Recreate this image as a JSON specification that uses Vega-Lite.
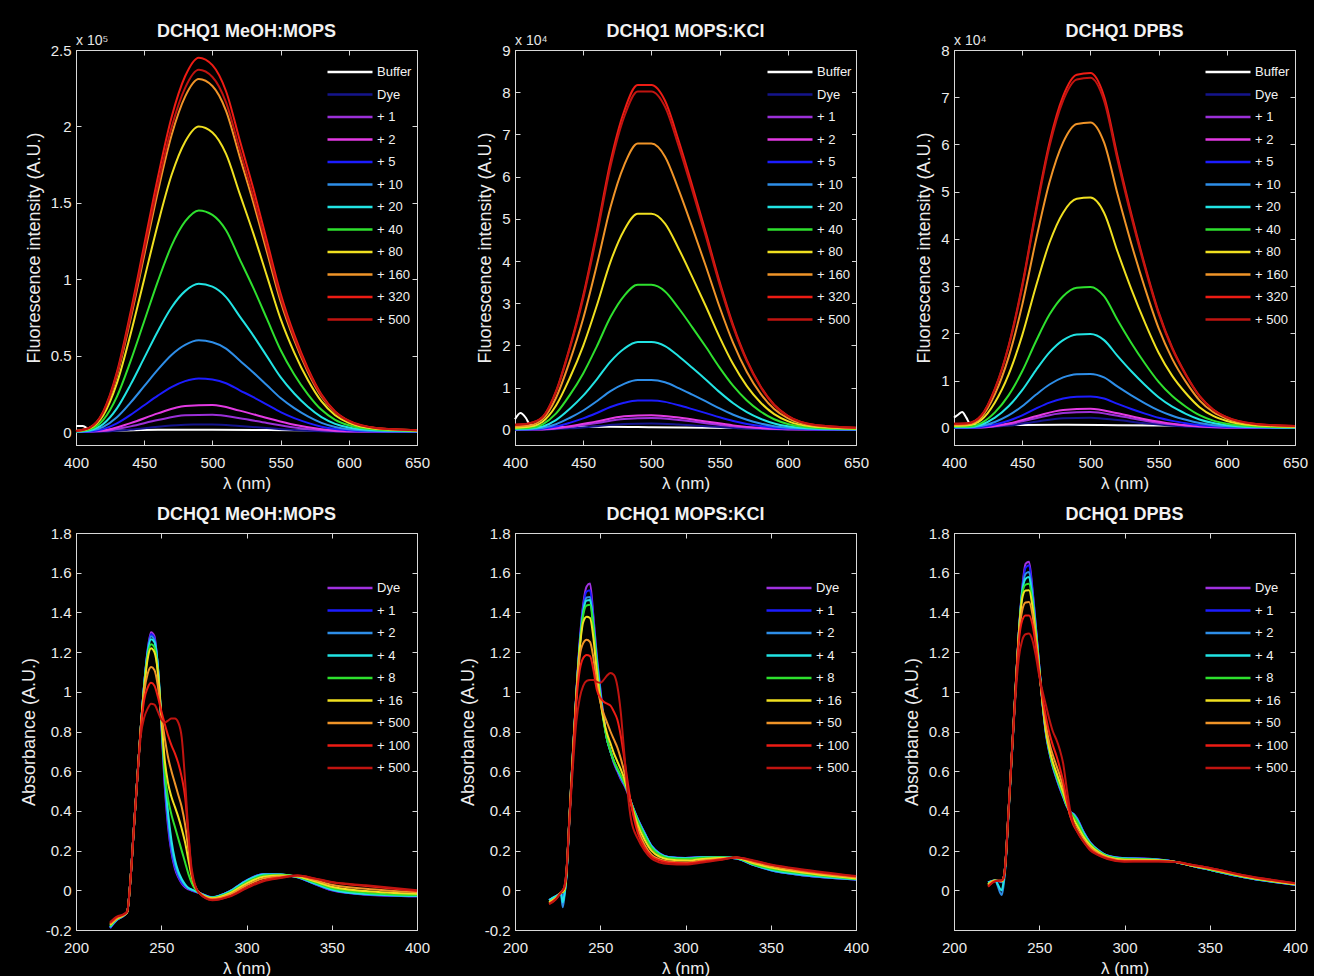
{
"$schema":"https://vega.github.io/schema/vega-lite/v6.json",
"background":"black",
"padding":{"left":19,"top":22,"right":5,"bottom":5},
"config":{
"font":"Liberation Sans",
"view":{"stroke":"#d9d9d9","strokeWidth":1},
"axis":{"domainColor":"#d9d9d9","tickColor":"#d9d9d9","labelColor":"#ececec","titleColor":"#ececec","grid":false,"tickSize":-5,"labelFontSize":15,"titleFontSize":17,"titleFontWeight":"normal","labelPadding":10,"titlePadding":7,"labelFlush":false,"labelOverlap":false},
"axisX":{"labelPadding":15,"titlePadding":5},
"axisY":{"titleFontSize":18},
"title":{"color":"#f2f2f2","fontSize":18,"fontWeight":"bold","offset":2},
"legend":{"orient":"none","title":null,"symbolType":"stroke","symbolSize":2025,"symbolStrokeWidth":2.5,"labelFontSize":13,"labelColor":"#f2f2f2","labelOffset":3,"clipHeight":22,"rowPadding":0.5,"padding":0,"fillColor":"black"}
},
"datasets":{
"f1":[
{"s":"Buffer","x":400,"y":0.04},{"s":"Buffer","x":405,"y":0.04},{"s":"Buffer","x":410,"y":0.015},{"s":"Buffer","x":420,"y":0.01},{"s":"Buffer","x":460,"y":0.014},{"s":"Buffer","x":500,"y":0.015},{"s":"Buffer","x":560,"y":0.011},{"s":"Buffer","x":600,"y":0.008},{"s":"Buffer","x":650,"y":0.005},
{"s":"Dye","x":400,"y":0},{"s":"Dye","x":420,"y":0.003},{"s":"Dye","x":440,"y":0.016},{"s":"Dye","x":460,"y":0.034},{"s":"Dye","x":480,"y":0.048},{"s":"Dye","x":500,"y":0.049},{"s":"Dye","x":520,"y":0.039},{"s":"Dye","x":540,"y":0.026},{"s":"Dye","x":560,"y":0.013},{"s":"Dye","x":580,"y":0.005},{"s":"Dye","x":600,"y":0.002},{"s":"Dye","x":650,"y":0},
{"s":"+ 1","x":400,"y":0},{"s":"+ 1","x":420,"y":0.006},{"s":"+ 1","x":440,"y":0.037},{"s":"+ 1","x":460,"y":0.078},{"s":"+ 1","x":480,"y":0.109},{"s":"+ 1","x":500,"y":0.113},{"s":"+ 1","x":520,"y":0.09},{"s":"+ 1","x":540,"y":0.059},{"s":"+ 1","x":560,"y":0.03},{"s":"+ 1","x":580,"y":0.012},{"s":"+ 1","x":600,"y":0.003},{"s":"+ 1","x":650,"y":0.001},
{"s":"+ 2","x":400,"y":0.001},{"s":"+ 2","x":420,"y":0.01},{"s":"+ 2","x":440,"y":0.058},{"s":"+ 2","x":460,"y":0.122},{"s":"+ 2","x":480,"y":0.171},{"s":"+ 2","x":500,"y":0.176},{"s":"+ 2","x":520,"y":0.14},{"s":"+ 2","x":540,"y":0.092},{"s":"+ 2","x":560,"y":0.047},{"s":"+ 2","x":580,"y":0.018},{"s":"+ 2","x":600,"y":0.005},{"s":"+ 2","x":650,"y":0.001},
{"s":"+ 5","x":400,"y":0.001},{"s":"+ 5","x":410,"y":0.004},{"s":"+ 5","x":420,"y":0.019},{"s":"+ 5","x":430,"y":0.056},{"s":"+ 5","x":440,"y":0.112},{"s":"+ 5","x":450,"y":0.175},{"s":"+ 5","x":460,"y":0.238},{"s":"+ 5","x":470,"y":0.294},{"s":"+ 5","x":480,"y":0.333},{"s":"+ 5","x":490,"y":0.35},{"s":"+ 5","x":500,"y":0.343},{"s":"+ 5","x":510,"y":0.319},{"s":"+ 5","x":520,"y":0.273},{"s":"+ 5","x":530,"y":0.228},{"s":"+ 5","x":540,"y":0.179},{"s":"+ 5","x":550,"y":0.13},{"s":"+ 5","x":560,"y":0.091},{"s":"+ 5","x":570,"y":0.06},{"s":"+ 5","x":580,"y":0.035},{"s":"+ 5","x":590,"y":0.019},{"s":"+ 5","x":600,"y":0.011},{"s":"+ 5","x":620,"y":0.004},{"s":"+ 5","x":650,"y":0.002},
{"s":"+ 10","x":400,"y":0.002},{"s":"+ 10","x":410,"y":0.007},{"s":"+ 10","x":420,"y":0.033},{"s":"+ 10","x":430,"y":0.096},{"s":"+ 10","x":440,"y":0.192},{"s":"+ 10","x":450,"y":0.3},{"s":"+ 10","x":460,"y":0.408},{"s":"+ 10","x":470,"y":0.504},{"s":"+ 10","x":480,"y":0.57},{"s":"+ 10","x":490,"y":0.6},{"s":"+ 10","x":500,"y":0.588},{"s":"+ 10","x":510,"y":0.546},{"s":"+ 10","x":520,"y":0.468},{"s":"+ 10","x":530,"y":0.39},{"s":"+ 10","x":540,"y":0.306},{"s":"+ 10","x":550,"y":0.222},{"s":"+ 10","x":560,"y":0.156},{"s":"+ 10","x":570,"y":0.102},{"s":"+ 10","x":580,"y":0.06},{"s":"+ 10","x":590,"y":0.033},{"s":"+ 10","x":600,"y":0.018},{"s":"+ 10","x":620,"y":0.007},{"s":"+ 10","x":650,"y":0.003},
{"s":"+ 20","x":400,"y":0.003},{"s":"+ 20","x":410,"y":0.012},{"s":"+ 20","x":420,"y":0.053},{"s":"+ 20","x":430,"y":0.155},{"s":"+ 20","x":440,"y":0.31},{"s":"+ 20","x":450,"y":0.485},{"s":"+ 20","x":460,"y":0.66},{"s":"+ 20","x":470,"y":0.815},{"s":"+ 20","x":480,"y":0.922},{"s":"+ 20","x":490,"y":0.97},{"s":"+ 20","x":500,"y":0.951},{"s":"+ 20","x":510,"y":0.883},{"s":"+ 20","x":520,"y":0.757},{"s":"+ 20","x":530,"y":0.631},{"s":"+ 20","x":540,"y":0.495},{"s":"+ 20","x":550,"y":0.359},{"s":"+ 20","x":560,"y":0.252},{"s":"+ 20","x":570,"y":0.165},{"s":"+ 20","x":580,"y":0.097},{"s":"+ 20","x":590,"y":0.053},{"s":"+ 20","x":600,"y":0.029},{"s":"+ 20","x":620,"y":0.011},{"s":"+ 20","x":650,"y":0.005},
{"s":"+ 40","x":400,"y":0.004},{"s":"+ 40","x":410,"y":0.017},{"s":"+ 40","x":420,"y":0.08},{"s":"+ 40","x":430,"y":0.232},{"s":"+ 40","x":440,"y":0.464},{"s":"+ 40","x":450,"y":0.725},{"s":"+ 40","x":460,"y":0.986},{"s":"+ 40","x":470,"y":1.218},{"s":"+ 40","x":480,"y":1.378},{"s":"+ 40","x":490,"y":1.45},{"s":"+ 40","x":500,"y":1.421},{"s":"+ 40","x":510,"y":1.32},{"s":"+ 40","x":520,"y":1.131},{"s":"+ 40","x":530,"y":0.943},{"s":"+ 40","x":540,"y":0.74},{"s":"+ 40","x":550,"y":0.537},{"s":"+ 40","x":560,"y":0.377},{"s":"+ 40","x":570,"y":0.247},{"s":"+ 40","x":580,"y":0.145},{"s":"+ 40","x":590,"y":0.08},{"s":"+ 40","x":600,"y":0.044},{"s":"+ 40","x":620,"y":0.016},{"s":"+ 40","x":650,"y":0.007},
{"s":"+ 80","x":400,"y":0.006},{"s":"+ 80","x":410,"y":0.024},{"s":"+ 80","x":420,"y":0.11},{"s":"+ 80","x":430,"y":0.32},{"s":"+ 80","x":440,"y":0.64},{"s":"+ 80","x":450,"y":1.0},{"s":"+ 80","x":460,"y":1.36},{"s":"+ 80","x":470,"y":1.68},{"s":"+ 80","x":480,"y":1.9},{"s":"+ 80","x":490,"y":2.0},{"s":"+ 80","x":500,"y":1.96},{"s":"+ 80","x":510,"y":1.82},{"s":"+ 80","x":520,"y":1.56},{"s":"+ 80","x":530,"y":1.3},{"s":"+ 80","x":540,"y":1.02},{"s":"+ 80","x":550,"y":0.74},{"s":"+ 80","x":560,"y":0.52},{"s":"+ 80","x":570,"y":0.34},{"s":"+ 80","x":580,"y":0.2},{"s":"+ 80","x":590,"y":0.11},{"s":"+ 80","x":600,"y":0.06},{"s":"+ 80","x":620,"y":0.022},{"s":"+ 80","x":650,"y":0.01},
{"s":"+ 160","x":400,"y":0.007},{"s":"+ 160","x":410,"y":0.028},{"s":"+ 160","x":420,"y":0.127},{"s":"+ 160","x":430,"y":0.37},{"s":"+ 160","x":440,"y":0.739},{"s":"+ 160","x":450,"y":1.155},{"s":"+ 160","x":460,"y":1.571},{"s":"+ 160","x":470,"y":1.94},{"s":"+ 160","x":480,"y":2.195},{"s":"+ 160","x":490,"y":2.31},{"s":"+ 160","x":500,"y":2.264},{"s":"+ 160","x":510,"y":2.102},{"s":"+ 160","x":520,"y":1.802},{"s":"+ 160","x":530,"y":1.502},{"s":"+ 160","x":540,"y":1.178},{"s":"+ 160","x":550,"y":0.855},{"s":"+ 160","x":560,"y":0.601},{"s":"+ 160","x":570,"y":0.393},{"s":"+ 160","x":580,"y":0.231},{"s":"+ 160","x":590,"y":0.127},{"s":"+ 160","x":600,"y":0.069},{"s":"+ 160","x":620,"y":0.025},{"s":"+ 160","x":650,"y":0.012},
{"s":"+ 320","x":400,"y":0.007},{"s":"+ 320","x":410,"y":0.029},{"s":"+ 320","x":420,"y":0.135},{"s":"+ 320","x":430,"y":0.392},{"s":"+ 320","x":440,"y":0.784},{"s":"+ 320","x":450,"y":1.225},{"s":"+ 320","x":460,"y":1.666},{"s":"+ 320","x":470,"y":2.058},{"s":"+ 320","x":480,"y":2.328},{"s":"+ 320","x":490,"y":2.45},{"s":"+ 320","x":500,"y":2.401},{"s":"+ 320","x":510,"y":2.23},{"s":"+ 320","x":520,"y":1.911},{"s":"+ 320","x":530,"y":1.593},{"s":"+ 320","x":540,"y":1.25},{"s":"+ 320","x":550,"y":0.907},{"s":"+ 320","x":560,"y":0.637},{"s":"+ 320","x":570,"y":0.417},{"s":"+ 320","x":580,"y":0.245},{"s":"+ 320","x":590,"y":0.135},{"s":"+ 320","x":600,"y":0.074},{"s":"+ 320","x":620,"y":0.027},{"s":"+ 320","x":650,"y":0.012},
{"s":"+ 500","x":400,"y":0.007},{"s":"+ 500","x":410,"y":0.028},{"s":"+ 500","x":420,"y":0.13},{"s":"+ 500","x":430,"y":0.379},{"s":"+ 500","x":440,"y":0.758},{"s":"+ 500","x":450,"y":1.185},{"s":"+ 500","x":460,"y":1.612},{"s":"+ 500","x":470,"y":1.991},{"s":"+ 500","x":480,"y":2.252},{"s":"+ 500","x":490,"y":2.37},{"s":"+ 500","x":500,"y":2.323},{"s":"+ 500","x":510,"y":2.157},{"s":"+ 500","x":520,"y":1.849},{"s":"+ 500","x":530,"y":1.541},{"s":"+ 500","x":540,"y":1.209},{"s":"+ 500","x":550,"y":0.877},{"s":"+ 500","x":560,"y":0.616},{"s":"+ 500","x":570,"y":0.403},{"s":"+ 500","x":580,"y":0.237},{"s":"+ 500","x":590,"y":0.13},{"s":"+ 500","x":600,"y":0.071},{"s":"+ 500","x":620,"y":0.026},{"s":"+ 500","x":650,"y":0.012}
],
"f2":[
{"s":"Buffer","x":400,"y":0.25},{"s":"Buffer","x":404,"y":0.4},{"s":"Buffer","x":408,"y":0.28},{"s":"Buffer","x":411,"y":0.12},{"s":"Buffer","x":420,"y":0.06},{"s":"Buffer","x":470,"y":0.07},{"s":"Buffer","x":500,"y":0.06},{"s":"Buffer","x":560,"y":0.04},{"s":"Buffer","x":600,"y":0.03},{"s":"Buffer","x":650,"y":0.02},
{"s":"Dye","x":400,"y":0},{"s":"Dye","x":420,"y":0.005},{"s":"Dye","x":440,"y":0.035},{"s":"Dye","x":460,"y":0.085},{"s":"Dye","x":480,"y":0.137},{"s":"Dye","x":500,"y":0.149},{"s":"Dye","x":520,"y":0.125},{"s":"Dye","x":540,"y":0.085},{"s":"Dye","x":560,"y":0.045},{"s":"Dye","x":580,"y":0.019},{"s":"Dye","x":600,"y":0.006},{"s":"Dye","x":650,"y":0.001},
{"s":"+ 1","x":400,"y":0.01},{"s":"+ 1","x":420,"y":0.01},{"s":"+ 1","x":440,"y":0.066},{"s":"+ 1","x":460,"y":0.16},{"s":"+ 1","x":480,"y":0.256},{"s":"+ 1","x":500,"y":0.277},{"s":"+ 1","x":520,"y":0.232},{"s":"+ 1","x":540,"y":0.158},{"s":"+ 1","x":560,"y":0.084},{"s":"+ 1","x":580,"y":0.035},{"s":"+ 1","x":600,"y":0.011},{"s":"+ 1","x":650,"y":0.001},
{"s":"+ 2","x":400,"y":0.01},{"s":"+ 2","x":420,"y":0.013},{"s":"+ 2","x":440,"y":0.082},{"s":"+ 2","x":460,"y":0.2},{"s":"+ 2","x":480,"y":0.32},{"s":"+ 2","x":500,"y":0.347},{"s":"+ 2","x":520,"y":0.29},{"s":"+ 2","x":540,"y":0.198},{"s":"+ 2","x":560,"y":0.105},{"s":"+ 2","x":580,"y":0.044},{"s":"+ 2","x":600,"y":0.014},{"s":"+ 2","x":650,"y":0.002},
{"s":"+ 5","x":400,"y":0.005},{"s":"+ 5","x":410,"y":0.01},{"s":"+ 5","x":420,"y":0.025},{"s":"+ 5","x":430,"y":0.077},{"s":"+ 5","x":440,"y":0.165},{"s":"+ 5","x":450,"y":0.27},{"s":"+ 5","x":460,"y":0.399},{"s":"+ 5","x":470,"y":0.539},{"s":"+ 5","x":480,"y":0.641},{"s":"+ 5","x":490,"y":0.693},{"s":"+ 5","x":500,"y":0.693},{"s":"+ 5","x":510,"y":0.662},{"s":"+ 5","x":520,"y":0.581},{"s":"+ 5","x":530,"y":0.49},{"s":"+ 5","x":540,"y":0.396},{"s":"+ 5","x":550,"y":0.298},{"s":"+ 5","x":560,"y":0.21},{"s":"+ 5","x":570,"y":0.14},{"s":"+ 5","x":580,"y":0.088},{"s":"+ 5","x":590,"y":0.05},{"s":"+ 5","x":600,"y":0.028},{"s":"+ 5","x":620,"y":0.01},{"s":"+ 5","x":650,"y":0.004},
{"s":"+ 10","x":400,"y":0.01},{"s":"+ 10","x":410,"y":0.015},{"s":"+ 10","x":420,"y":0.043},{"s":"+ 10","x":430,"y":0.131},{"s":"+ 10","x":440,"y":0.28},{"s":"+ 10","x":450,"y":0.458},{"s":"+ 10","x":460,"y":0.678},{"s":"+ 10","x":470,"y":0.916},{"s":"+ 10","x":480,"y":1.089},{"s":"+ 10","x":490,"y":1.178},{"s":"+ 10","x":500,"y":1.178},{"s":"+ 10","x":510,"y":1.125},{"s":"+ 10","x":520,"y":0.988},{"s":"+ 10","x":530,"y":0.833},{"s":"+ 10","x":540,"y":0.672},{"s":"+ 10","x":550,"y":0.506},{"s":"+ 10","x":560,"y":0.357},{"s":"+ 10","x":570,"y":0.238},{"s":"+ 10","x":580,"y":0.149},{"s":"+ 10","x":590,"y":0.086},{"s":"+ 10","x":600,"y":0.048},{"s":"+ 10","x":620,"y":0.017},{"s":"+ 10","x":650,"y":0.006},
{"s":"+ 20","x":400,"y":0.02},{"s":"+ 20","x":410,"y":0.03},{"s":"+ 20","x":420,"y":0.076},{"s":"+ 20","x":430,"y":0.231},{"s":"+ 20","x":440,"y":0.494},{"s":"+ 20","x":450,"y":0.809},{"s":"+ 20","x":460,"y":1.197},{"s":"+ 20","x":470,"y":1.617},{"s":"+ 20","x":480,"y":1.922},{"s":"+ 20","x":490,"y":2.079},{"s":"+ 20","x":500,"y":2.079},{"s":"+ 20","x":510,"y":1.985},{"s":"+ 20","x":520,"y":1.743},{"s":"+ 20","x":530,"y":1.47},{"s":"+ 20","x":540,"y":1.187},{"s":"+ 20","x":550,"y":0.893},{"s":"+ 20","x":560,"y":0.63},{"s":"+ 20","x":570,"y":0.42},{"s":"+ 20","x":580,"y":0.263},{"s":"+ 20","x":590,"y":0.151},{"s":"+ 20","x":600,"y":0.084},{"s":"+ 20","x":620,"y":0.029},{"s":"+ 20","x":650,"y":0.012},
{"s":"+ 40","x":400,"y":0.03},{"s":"+ 40","x":410,"y":0.04},{"s":"+ 40","x":420,"y":0.125},{"s":"+ 40","x":430,"y":0.382},{"s":"+ 40","x":440,"y":0.815},{"s":"+ 40","x":450,"y":1.336},{"s":"+ 40","x":460,"y":1.978},{"s":"+ 40","x":470,"y":2.672},{"s":"+ 40","x":480,"y":3.175},{"s":"+ 40","x":490,"y":3.435},{"s":"+ 40","x":500,"y":3.435},{"s":"+ 40","x":510,"y":3.279},{"s":"+ 40","x":520,"y":2.88},{"s":"+ 40","x":530,"y":2.429},{"s":"+ 40","x":540,"y":1.961},{"s":"+ 40","x":550,"y":1.475},{"s":"+ 40","x":560,"y":1.041},{"s":"+ 40","x":570,"y":0.694},{"s":"+ 40","x":580,"y":0.434},{"s":"+ 40","x":590,"y":0.25},{"s":"+ 40","x":600,"y":0.139},{"s":"+ 40","x":620,"y":0.049},{"s":"+ 40","x":650,"y":0.02},
{"s":"+ 80","x":400,"y":0.05},{"s":"+ 80","x":410,"y":0.07},{"s":"+ 80","x":420,"y":0.186},{"s":"+ 80","x":430,"y":0.569},{"s":"+ 80","x":440,"y":1.215},{"s":"+ 80","x":450,"y":1.99},{"s":"+ 80","x":460,"y":2.947},{"s":"+ 80","x":470,"y":3.981},{"s":"+ 80","x":480,"y":4.731},{"s":"+ 80","x":490,"y":5.118},{"s":"+ 80","x":500,"y":5.118},{"s":"+ 80","x":510,"y":4.886},{"s":"+ 80","x":520,"y":4.291},{"s":"+ 80","x":530,"y":3.619},{"s":"+ 80","x":540,"y":2.921},{"s":"+ 80","x":550,"y":2.197},{"s":"+ 80","x":560,"y":1.551},{"s":"+ 80","x":570,"y":1.034},{"s":"+ 80","x":580,"y":0.646},{"s":"+ 80","x":590,"y":0.372},{"s":"+ 80","x":600,"y":0.207},{"s":"+ 80","x":620,"y":0.072},{"s":"+ 80","x":650,"y":0.03},
{"s":"+ 160","x":400,"y":0.08},{"s":"+ 160","x":410,"y":0.1},{"s":"+ 160","x":420,"y":0.247},{"s":"+ 160","x":430,"y":0.754},{"s":"+ 160","x":440,"y":1.61},{"s":"+ 160","x":450,"y":2.637},{"s":"+ 160","x":460,"y":3.905},{"s":"+ 160","x":470,"y":5.275},{"s":"+ 160","x":480,"y":6.268},{"s":"+ 160","x":490,"y":6.782},{"s":"+ 160","x":500,"y":6.782},{"s":"+ 160","x":510,"y":6.473},{"s":"+ 160","x":520,"y":5.686},{"s":"+ 160","x":530,"y":4.795},{"s":"+ 160","x":540,"y":3.87},{"s":"+ 160","x":550,"y":2.911},{"s":"+ 160","x":560,"y":2.055},{"s":"+ 160","x":570,"y":1.37},{"s":"+ 160","x":580,"y":0.856},{"s":"+ 160","x":590,"y":0.493},{"s":"+ 160","x":600,"y":0.274},{"s":"+ 160","x":620,"y":0.096},{"s":"+ 160","x":650,"y":0.04},
{"s":"+ 320","x":400,"y":0.12},{"s":"+ 320","x":410,"y":0.15},{"s":"+ 320","x":420,"y":0.297},{"s":"+ 320","x":430,"y":0.908},{"s":"+ 320","x":440,"y":1.939},{"s":"+ 320","x":450,"y":3.176},{"s":"+ 320","x":460,"y":4.703},{"s":"+ 320","x":470,"y":6.353},{"s":"+ 320","x":480,"y":7.549},{"s":"+ 320","x":490,"y":8.168},{"s":"+ 320","x":500,"y":8.168},{"s":"+ 320","x":510,"y":7.796},{"s":"+ 320","x":520,"y":6.848},{"s":"+ 320","x":530,"y":5.775},{"s":"+ 320","x":540,"y":4.661},{"s":"+ 320","x":550,"y":3.506},{"s":"+ 320","x":560,"y":2.475},{"s":"+ 320","x":570,"y":1.65},{"s":"+ 320","x":580,"y":1.031},{"s":"+ 320","x":590,"y":0.594},{"s":"+ 320","x":600,"y":0.33},{"s":"+ 320","x":620,"y":0.116},{"s":"+ 320","x":650,"y":0.05},
{"s":"+ 500","x":400,"y":0.12},{"s":"+ 500","x":410,"y":0.15},{"s":"+ 500","x":420,"y":0.292},{"s":"+ 500","x":430,"y":0.891},{"s":"+ 500","x":440,"y":1.904},{"s":"+ 500","x":450,"y":3.119},{"s":"+ 500","x":460,"y":4.617},{"s":"+ 500","x":470,"y":6.237},{"s":"+ 500","x":480,"y":7.412},{"s":"+ 500","x":490,"y":8.019},{"s":"+ 500","x":500,"y":8.019},{"s":"+ 500","x":510,"y":7.655},{"s":"+ 500","x":520,"y":6.723},{"s":"+ 500","x":530,"y":5.67},{"s":"+ 500","x":540,"y":4.577},{"s":"+ 500","x":550,"y":3.443},{"s":"+ 500","x":560,"y":2.43},{"s":"+ 500","x":570,"y":1.62},{"s":"+ 500","x":580,"y":1.013},{"s":"+ 500","x":590,"y":0.583},{"s":"+ 500","x":600,"y":0.324},{"s":"+ 500","x":620,"y":0.113},{"s":"+ 500","x":650,"y":0.05}
],
"f3":[
{"s":"Buffer","x":400,"y":0.22},{"s":"Buffer","x":403,"y":0.28},{"s":"Buffer","x":406,"y":0.34},{"s":"Buffer","x":409,"y":0.22},{"s":"Buffer","x":412,"y":0.08},{"s":"Buffer","x":420,"y":0.06},{"s":"Buffer","x":480,"y":0.07},{"s":"Buffer","x":520,"y":0.06},{"s":"Buffer","x":580,"y":0.05},{"s":"Buffer","x":650,"y":0.03},
{"s":"Dye","x":400,"y":0},{"s":"Dye","x":420,"y":0.008},{"s":"Dye","x":440,"y":0.05},{"s":"Dye","x":460,"y":0.134},{"s":"Dye","x":480,"y":0.205},{"s":"Dye","x":500,"y":0.219},{"s":"Dye","x":520,"y":0.167},{"s":"Dye","x":540,"y":0.1},{"s":"Dye","x":560,"y":0.05},{"s":"Dye","x":580,"y":0.02},{"s":"Dye","x":600,"y":0.007},{"s":"Dye","x":650,"y":0.001},
{"s":"+ 1","x":400,"y":0.01},{"s":"+ 1","x":420,"y":0.012},{"s":"+ 1","x":440,"y":0.078},{"s":"+ 1","x":460,"y":0.207},{"s":"+ 1","x":480,"y":0.316},{"s":"+ 1","x":500,"y":0.338},{"s":"+ 1","x":520,"y":0.258},{"s":"+ 1","x":540,"y":0.155},{"s":"+ 1","x":560,"y":0.077},{"s":"+ 1","x":580,"y":0.031},{"s":"+ 1","x":600,"y":0.01},{"s":"+ 1","x":650,"y":0.002},
{"s":"+ 2","x":400,"y":0.01},{"s":"+ 2","x":420,"y":0.014},{"s":"+ 2","x":440,"y":0.094},{"s":"+ 2","x":460,"y":0.25},{"s":"+ 2","x":480,"y":0.381},{"s":"+ 2","x":500,"y":0.408},{"s":"+ 2","x":520,"y":0.312},{"s":"+ 2","x":540,"y":0.187},{"s":"+ 2","x":560,"y":0.092},{"s":"+ 2","x":580,"y":0.037},{"s":"+ 2","x":600,"y":0.012},{"s":"+ 2","x":650,"y":0.002},
{"s":"+ 5","x":400,"y":0.005},{"s":"+ 5","x":410,"y":0.005},{"s":"+ 5","x":420,"y":0.023},{"s":"+ 5","x":430,"y":0.074},{"s":"+ 5","x":440,"y":0.154},{"s":"+ 5","x":450,"y":0.268},{"s":"+ 5","x":460,"y":0.409},{"s":"+ 5","x":470,"y":0.536},{"s":"+ 5","x":480,"y":0.623},{"s":"+ 5","x":490,"y":0.663},{"s":"+ 5","x":500,"y":0.667},{"s":"+ 5","x":510,"y":0.623},{"s":"+ 5","x":520,"y":0.509},{"s":"+ 5","x":530,"y":0.402},{"s":"+ 5","x":540,"y":0.305},{"s":"+ 5","x":550,"y":0.218},{"s":"+ 5","x":560,"y":0.151},{"s":"+ 5","x":570,"y":0.101},{"s":"+ 5","x":580,"y":0.06},{"s":"+ 5","x":590,"y":0.035},{"s":"+ 5","x":600,"y":0.02},{"s":"+ 5","x":620,"y":0.008},{"s":"+ 5","x":650,"y":0.003},
{"s":"+ 10","x":400,"y":0.01},{"s":"+ 10","x":410,"y":0.01},{"s":"+ 10","x":420,"y":0.04},{"s":"+ 10","x":430,"y":0.127},{"s":"+ 10","x":440,"y":0.265},{"s":"+ 10","x":450,"y":0.46},{"s":"+ 10","x":460,"y":0.702},{"s":"+ 10","x":470,"y":0.92},{"s":"+ 10","x":480,"y":1.07},{"s":"+ 10","x":490,"y":1.139},{"s":"+ 10","x":500,"y":1.144},{"s":"+ 10","x":510,"y":1.07},{"s":"+ 10","x":520,"y":0.874},{"s":"+ 10","x":530,"y":0.69},{"s":"+ 10","x":540,"y":0.523},{"s":"+ 10","x":550,"y":0.374},{"s":"+ 10","x":560,"y":0.259},{"s":"+ 10","x":570,"y":0.173},{"s":"+ 10","x":580,"y":0.104},{"s":"+ 10","x":590,"y":0.06},{"s":"+ 10","x":600,"y":0.035},{"s":"+ 10","x":620,"y":0.014},{"s":"+ 10","x":650,"y":0.006},
{"s":"+ 20","x":400,"y":0.02},{"s":"+ 20","x":410,"y":0.02},{"s":"+ 20","x":420,"y":0.07},{"s":"+ 20","x":430,"y":0.22},{"s":"+ 20","x":440,"y":0.46},{"s":"+ 20","x":450,"y":0.8},{"s":"+ 20","x":460,"y":1.22},{"s":"+ 20","x":470,"y":1.6},{"s":"+ 20","x":480,"y":1.86},{"s":"+ 20","x":490,"y":1.98},{"s":"+ 20","x":500,"y":1.99},{"s":"+ 20","x":510,"y":1.86},{"s":"+ 20","x":520,"y":1.52},{"s":"+ 20","x":530,"y":1.2},{"s":"+ 20","x":540,"y":0.91},{"s":"+ 20","x":550,"y":0.65},{"s":"+ 20","x":560,"y":0.45},{"s":"+ 20","x":570,"y":0.3},{"s":"+ 20","x":580,"y":0.18},{"s":"+ 20","x":590,"y":0.104},{"s":"+ 20","x":600,"y":0.06},{"s":"+ 20","x":620,"y":0.024},{"s":"+ 20","x":650,"y":0.01},
{"s":"+ 40","x":400,"y":0.03},{"s":"+ 40","x":410,"y":0.03},{"s":"+ 40","x":420,"y":0.105},{"s":"+ 40","x":430,"y":0.33},{"s":"+ 40","x":440,"y":0.69},{"s":"+ 40","x":450,"y":1.2},{"s":"+ 40","x":460,"y":1.83},{"s":"+ 40","x":470,"y":2.4},{"s":"+ 40","x":480,"y":2.79},{"s":"+ 40","x":490,"y":2.97},{"s":"+ 40","x":500,"y":2.985},{"s":"+ 40","x":510,"y":2.79},{"s":"+ 40","x":520,"y":2.28},{"s":"+ 40","x":530,"y":1.8},{"s":"+ 40","x":540,"y":1.365},{"s":"+ 40","x":550,"y":0.975},{"s":"+ 40","x":560,"y":0.675},{"s":"+ 40","x":570,"y":0.45},{"s":"+ 40","x":580,"y":0.27},{"s":"+ 40","x":590,"y":0.156},{"s":"+ 40","x":600,"y":0.09},{"s":"+ 40","x":620,"y":0.036},{"s":"+ 40","x":650,"y":0.015},
{"s":"+ 80","x":400,"y":0.05},{"s":"+ 80","x":410,"y":0.06},{"s":"+ 80","x":420,"y":0.172},{"s":"+ 80","x":430,"y":0.539},{"s":"+ 80","x":440,"y":1.127},{"s":"+ 80","x":450,"y":1.96},{"s":"+ 80","x":460,"y":2.989},{"s":"+ 80","x":470,"y":3.92},{"s":"+ 80","x":480,"y":4.557},{"s":"+ 80","x":490,"y":4.851},{"s":"+ 80","x":500,"y":4.876},{"s":"+ 80","x":510,"y":4.557},{"s":"+ 80","x":520,"y":3.724},{"s":"+ 80","x":530,"y":2.94},{"s":"+ 80","x":540,"y":2.23},{"s":"+ 80","x":550,"y":1.593},{"s":"+ 80","x":560,"y":1.103},{"s":"+ 80","x":570,"y":0.735},{"s":"+ 80","x":580,"y":0.441},{"s":"+ 80","x":590,"y":0.255},{"s":"+ 80","x":600,"y":0.147},{"s":"+ 80","x":620,"y":0.059},{"s":"+ 80","x":650,"y":0.025},
{"s":"+ 160","x":400,"y":0.07},{"s":"+ 160","x":410,"y":0.08},{"s":"+ 160","x":420,"y":0.228},{"s":"+ 160","x":430,"y":0.715},{"s":"+ 160","x":440,"y":1.495},{"s":"+ 160","x":450,"y":2.6},{"s":"+ 160","x":460,"y":3.965},{"s":"+ 160","x":470,"y":5.2},{"s":"+ 160","x":480,"y":6.045},{"s":"+ 160","x":490,"y":6.435},{"s":"+ 160","x":500,"y":6.468},{"s":"+ 160","x":510,"y":6.045},{"s":"+ 160","x":520,"y":4.94},{"s":"+ 160","x":530,"y":3.9},{"s":"+ 160","x":540,"y":2.958},{"s":"+ 160","x":550,"y":2.113},{"s":"+ 160","x":560,"y":1.463},{"s":"+ 160","x":570,"y":0.975},{"s":"+ 160","x":580,"y":0.585},{"s":"+ 160","x":590,"y":0.338},{"s":"+ 160","x":600,"y":0.195},{"s":"+ 160","x":620,"y":0.078},{"s":"+ 160","x":650,"y":0.033},
{"s":"+ 320","x":400,"y":0.09},{"s":"+ 320","x":410,"y":0.1},{"s":"+ 320","x":420,"y":0.264},{"s":"+ 320","x":430,"y":0.831},{"s":"+ 320","x":440,"y":1.737},{"s":"+ 320","x":450,"y":3.02},{"s":"+ 320","x":460,"y":4.606},{"s":"+ 320","x":470,"y":6.04},{"s":"+ 320","x":480,"y":7.022},{"s":"+ 320","x":490,"y":7.475},{"s":"+ 320","x":500,"y":7.512},{"s":"+ 320","x":510,"y":7.022},{"s":"+ 320","x":520,"y":5.738},{"s":"+ 320","x":530,"y":4.53},{"s":"+ 320","x":540,"y":3.435},{"s":"+ 320","x":550,"y":2.454},{"s":"+ 320","x":560,"y":1.699},{"s":"+ 320","x":570,"y":1.133},{"s":"+ 320","x":580,"y":0.68},{"s":"+ 320","x":590,"y":0.393},{"s":"+ 320","x":600,"y":0.227},{"s":"+ 320","x":620,"y":0.091},{"s":"+ 320","x":650,"y":0.04},
{"s":"+ 500","x":400,"y":0.09},{"s":"+ 500","x":410,"y":0.1},{"s":"+ 500","x":420,"y":0.261},{"s":"+ 500","x":430,"y":0.82},{"s":"+ 500","x":440,"y":1.714},{"s":"+ 500","x":450,"y":2.98},{"s":"+ 500","x":460,"y":4.545},{"s":"+ 500","x":470,"y":5.96},{"s":"+ 500","x":480,"y":6.929},{"s":"+ 500","x":490,"y":7.376},{"s":"+ 500","x":500,"y":7.413},{"s":"+ 500","x":510,"y":6.929},{"s":"+ 500","x":520,"y":5.662},{"s":"+ 500","x":530,"y":4.47},{"s":"+ 500","x":540,"y":3.39},{"s":"+ 500","x":550,"y":2.421},{"s":"+ 500","x":560,"y":1.676},{"s":"+ 500","x":570,"y":1.118},{"s":"+ 500","x":580,"y":0.671},{"s":"+ 500","x":590,"y":0.387},{"s":"+ 500","x":600,"y":0.224},{"s":"+ 500","x":620,"y":0.089},{"s":"+ 500","x":650,"y":0.04}
],
"a1":[
{"s":"Dye","x":220,"y":-0.19},{"s":"Dye","x":224,"y":-0.15},{"s":"Dye","x":228,"y":-0.128},{"s":"Dye","x":230,"y":-0.11},{"s":"Dye","x":232,"y":0.06},{"s":"Dye","x":234,"y":0.32},{"s":"Dye","x":236,"y":0.57},{"s":"Dye","x":238,"y":0.82},{"s":"Dye","x":240,"y":1.04},{"s":"Dye","x":242,"y":1.21},{"s":"Dye","x":244,"y":1.3},{"s":"Dye","x":246,"y":1.28},{"s":"Dye","x":248,"y":1.12},{"s":"Dye","x":250,"y":0.84},{"s":"Dye","x":252,"y":0.53},{"s":"Dye","x":254,"y":0.32},{"s":"Dye","x":256,"y":0.19},{"s":"Dye","x":258,"y":0.11},{"s":"Dye","x":260,"y":0.065},{"s":"Dye","x":262,"y":0.035},{"s":"Dye","x":264,"y":0.015},{"s":"Dye","x":266,"y":0.005},{"s":"Dye","x":268,"y":-0.002},{"s":"Dye","x":272,"y":-0.012},{"s":"Dye","x":280,"y":-0.035},{"s":"Dye","x":290,"y":-0.005},{"s":"Dye","x":300,"y":0.05},{"s":"Dye","x":310,"y":0.082},{"s":"Dye","x":320,"y":0.08},{"s":"Dye","x":330,"y":0.066},{"s":"Dye","x":340,"y":0.032},{"s":"Dye","x":350,"y":0},{"s":"Dye","x":370,"y":-0.022},{"s":"Dye","x":400,"y":-0.03},
{"s":"+ 1","x":220,"y":-0.19},{"s":"+ 1","x":224,"y":-0.15},{"s":"+ 1","x":228,"y":-0.128},{"s":"+ 1","x":230,"y":-0.11},{"s":"+ 1","x":232,"y":0.06},{"s":"+ 1","x":234,"y":0.32},{"s":"+ 1","x":236,"y":0.57},{"s":"+ 1","x":238,"y":0.82},{"s":"+ 1","x":240,"y":1.04},{"s":"+ 1","x":242,"y":1.205},{"s":"+ 1","x":244,"y":1.29},{"s":"+ 1","x":246,"y":1.27},{"s":"+ 1","x":248,"y":1.125},{"s":"+ 1","x":250,"y":0.85},{"s":"+ 1","x":252,"y":0.55},{"s":"+ 1","x":254,"y":0.34},{"s":"+ 1","x":256,"y":0.2},{"s":"+ 1","x":258,"y":0.12},{"s":"+ 1","x":260,"y":0.072},{"s":"+ 1","x":262,"y":0.04},{"s":"+ 1","x":264,"y":0.02},{"s":"+ 1","x":266,"y":0.008},{"s":"+ 1","x":268,"y":0},{"s":"+ 1","x":272,"y":-0.012},{"s":"+ 1","x":280,"y":-0.035},{"s":"+ 1","x":290,"y":-0.005},{"s":"+ 1","x":300,"y":0.05},{"s":"+ 1","x":310,"y":0.082},{"s":"+ 1","x":320,"y":0.08},{"s":"+ 1","x":330,"y":0.066},{"s":"+ 1","x":340,"y":0.032},{"s":"+ 1","x":350,"y":0.001},{"s":"+ 1","x":370,"y":-0.021},{"s":"+ 1","x":400,"y":-0.03},
{"s":"+ 2","x":220,"y":-0.185},{"s":"+ 2","x":224,"y":-0.148},{"s":"+ 2","x":228,"y":-0.127},{"s":"+ 2","x":230,"y":-0.11},{"s":"+ 2","x":232,"y":0.06},{"s":"+ 2","x":234,"y":0.32},{"s":"+ 2","x":236,"y":0.57},{"s":"+ 2","x":238,"y":0.82},{"s":"+ 2","x":240,"y":1.04},{"s":"+ 2","x":242,"y":1.2},{"s":"+ 2","x":244,"y":1.28},{"s":"+ 2","x":246,"y":1.26},{"s":"+ 2","x":248,"y":1.13},{"s":"+ 2","x":250,"y":0.86},{"s":"+ 2","x":252,"y":0.57},{"s":"+ 2","x":254,"y":0.36},{"s":"+ 2","x":256,"y":0.22},{"s":"+ 2","x":258,"y":0.135},{"s":"+ 2","x":260,"y":0.082},{"s":"+ 2","x":262,"y":0.048},{"s":"+ 2","x":264,"y":0.025},{"s":"+ 2","x":266,"y":0.01},{"s":"+ 2","x":268,"y":0.002},{"s":"+ 2","x":272,"y":-0.012},{"s":"+ 2","x":280,"y":-0.035},{"s":"+ 2","x":290,"y":-0.006},{"s":"+ 2","x":300,"y":0.049},{"s":"+ 2","x":310,"y":0.081},{"s":"+ 2","x":320,"y":0.08},{"s":"+ 2","x":330,"y":0.066},{"s":"+ 2","x":340,"y":0.033},{"s":"+ 2","x":350,"y":0.002},{"s":"+ 2","x":370,"y":-0.02},{"s":"+ 2","x":400,"y":-0.029},
{"s":"+ 4","x":220,"y":-0.185},{"s":"+ 4","x":224,"y":-0.147},{"s":"+ 4","x":228,"y":-0.127},{"s":"+ 4","x":230,"y":-0.11},{"s":"+ 4","x":232,"y":0.06},{"s":"+ 4","x":234,"y":0.32},{"s":"+ 4","x":236,"y":0.57},{"s":"+ 4","x":238,"y":0.82},{"s":"+ 4","x":240,"y":1.035},{"s":"+ 4","x":242,"y":1.195},{"s":"+ 4","x":244,"y":1.265},{"s":"+ 4","x":246,"y":1.25},{"s":"+ 4","x":248,"y":1.13},{"s":"+ 4","x":250,"y":0.88},{"s":"+ 4","x":252,"y":0.6},{"s":"+ 4","x":254,"y":0.39},{"s":"+ 4","x":256,"y":0.25},{"s":"+ 4","x":258,"y":0.155},{"s":"+ 4","x":260,"y":0.095},{"s":"+ 4","x":262,"y":0.057},{"s":"+ 4","x":264,"y":0.03},{"s":"+ 4","x":266,"y":0.012},{"s":"+ 4","x":268,"y":0.003},{"s":"+ 4","x":272,"y":-0.012},{"s":"+ 4","x":280,"y":-0.036},{"s":"+ 4","x":290,"y":-0.007},{"s":"+ 4","x":300,"y":0.048},{"s":"+ 4","x":310,"y":0.08},{"s":"+ 4","x":320,"y":0.08},{"s":"+ 4","x":330,"y":0.067},{"s":"+ 4","x":340,"y":0.035},{"s":"+ 4","x":350,"y":0.004},{"s":"+ 4","x":370,"y":-0.019},{"s":"+ 4","x":400,"y":-0.028},
{"s":"+ 8","x":220,"y":-0.18},{"s":"+ 8","x":224,"y":-0.145},{"s":"+ 8","x":228,"y":-0.126},{"s":"+ 8","x":230,"y":-0.11},{"s":"+ 8","x":232,"y":0.06},{"s":"+ 8","x":234,"y":0.32},{"s":"+ 8","x":236,"y":0.57},{"s":"+ 8","x":238,"y":0.82},{"s":"+ 8","x":240,"y":1.03},{"s":"+ 8","x":242,"y":1.18},{"s":"+ 8","x":244,"y":1.24},{"s":"+ 8","x":246,"y":1.225},{"s":"+ 8","x":248,"y":1.1},{"s":"+ 8","x":250,"y":0.86},{"s":"+ 8","x":252,"y":0.6},{"s":"+ 8","x":254,"y":0.46},{"s":"+ 8","x":256,"y":0.38},{"s":"+ 8","x":258,"y":0.32},{"s":"+ 8","x":260,"y":0.26},{"s":"+ 8","x":262,"y":0.2},{"s":"+ 8","x":264,"y":0.14},{"s":"+ 8","x":266,"y":0.08},{"s":"+ 8","x":268,"y":0.035},{"s":"+ 8","x":272,"y":-0.012},{"s":"+ 8","x":280,"y":-0.038},{"s":"+ 8","x":290,"y":-0.012},{"s":"+ 8","x":300,"y":0.04},{"s":"+ 8","x":310,"y":0.074},{"s":"+ 8","x":320,"y":0.078},{"s":"+ 8","x":330,"y":0.068},{"s":"+ 8","x":340,"y":0.04},{"s":"+ 8","x":350,"y":0.01},{"s":"+ 8","x":370,"y":-0.012},{"s":"+ 8","x":400,"y":-0.024},
{"s":"+ 16","x":220,"y":-0.175},{"s":"+ 16","x":224,"y":-0.143},{"s":"+ 16","x":228,"y":-0.125},{"s":"+ 16","x":230,"y":-0.11},{"s":"+ 16","x":232,"y":0.06},{"s":"+ 16","x":234,"y":0.32},{"s":"+ 16","x":236,"y":0.57},{"s":"+ 16","x":238,"y":0.82},{"s":"+ 16","x":240,"y":1.02},{"s":"+ 16","x":242,"y":1.165},{"s":"+ 16","x":244,"y":1.22},{"s":"+ 16","x":246,"y":1.2},{"s":"+ 16","x":248,"y":1.1},{"s":"+ 16","x":250,"y":0.88},{"s":"+ 16","x":252,"y":0.66},{"s":"+ 16","x":254,"y":0.54},{"s":"+ 16","x":256,"y":0.47},{"s":"+ 16","x":258,"y":0.42},{"s":"+ 16","x":260,"y":0.37},{"s":"+ 16","x":262,"y":0.31},{"s":"+ 16","x":264,"y":0.24},{"s":"+ 16","x":266,"y":0.15},{"s":"+ 16","x":268,"y":0.065},{"s":"+ 16","x":272,"y":-0.01},{"s":"+ 16","x":280,"y":-0.04},{"s":"+ 16","x":290,"y":-0.016},{"s":"+ 16","x":300,"y":0.034},{"s":"+ 16","x":310,"y":0.068},{"s":"+ 16","x":320,"y":0.075},{"s":"+ 16","x":330,"y":0.07},{"s":"+ 16","x":340,"y":0.045},{"s":"+ 16","x":350,"y":0.018},{"s":"+ 16","x":370,"y":-0.004},{"s":"+ 16","x":400,"y":-0.018},
{"s":"+ 500 ","x":220,"y":-0.17},{"s":"+ 500 ","x":224,"y":-0.14},{"s":"+ 500 ","x":228,"y":-0.124},{"s":"+ 500 ","x":230,"y":-0.11},{"s":"+ 500 ","x":232,"y":0.06},{"s":"+ 500 ","x":234,"y":0.32},{"s":"+ 500 ","x":236,"y":0.57},{"s":"+ 500 ","x":238,"y":0.82},{"s":"+ 500 ","x":240,"y":1.0},{"s":"+ 500 ","x":242,"y":1.09},{"s":"+ 500 ","x":244,"y":1.125},{"s":"+ 500 ","x":246,"y":1.11},{"s":"+ 500 ","x":248,"y":1.03},{"s":"+ 500 ","x":250,"y":0.89},{"s":"+ 500 ","x":252,"y":0.77},{"s":"+ 500 ","x":254,"y":0.67},{"s":"+ 500 ","x":256,"y":0.6},{"s":"+ 500 ","x":258,"y":0.54},{"s":"+ 500 ","x":260,"y":0.48},{"s":"+ 500 ","x":262,"y":0.42},{"s":"+ 500 ","x":264,"y":0.33},{"s":"+ 500 ","x":266,"y":0.2},{"s":"+ 500 ","x":268,"y":0.08},{"s":"+ 500 ","x":272,"y":-0.01},{"s":"+ 500 ","x":280,"y":-0.044},{"s":"+ 500 ","x":290,"y":-0.022},{"s":"+ 500 ","x":300,"y":0.025},{"s":"+ 500 ","x":310,"y":0.06},{"s":"+ 500 ","x":320,"y":0.07},{"s":"+ 500 ","x":330,"y":0.072},{"s":"+ 500 ","x":340,"y":0.052},{"s":"+ 500 ","x":350,"y":0.028},{"s":"+ 500 ","x":370,"y":0.008},{"s":"+ 500 ","x":400,"y":-0.01},
{"s":"+ 100","x":220,"y":-0.165},{"s":"+ 100","x":224,"y":-0.135},{"s":"+ 100","x":228,"y":-0.122},{"s":"+ 100","x":230,"y":-0.108},{"s":"+ 100","x":232,"y":0.06},{"s":"+ 100","x":234,"y":0.32},{"s":"+ 100","x":236,"y":0.57},{"s":"+ 100","x":238,"y":0.81},{"s":"+ 100","x":240,"y":0.96},{"s":"+ 100","x":242,"y":1.02},{"s":"+ 100","x":244,"y":1.045},{"s":"+ 100","x":246,"y":1.03},{"s":"+ 100","x":248,"y":0.975},{"s":"+ 100","x":250,"y":0.905},{"s":"+ 100","x":252,"y":0.84},{"s":"+ 100","x":254,"y":0.78},{"s":"+ 100","x":256,"y":0.73},{"s":"+ 100","x":258,"y":0.69},{"s":"+ 100","x":260,"y":0.64},{"s":"+ 100","x":262,"y":0.57},{"s":"+ 100","x":264,"y":0.47},{"s":"+ 100","x":266,"y":0.27},{"s":"+ 100","x":268,"y":0.08},{"s":"+ 100","x":272,"y":-0.012},{"s":"+ 100","x":280,"y":-0.048},{"s":"+ 100","x":290,"y":-0.03},{"s":"+ 100","x":300,"y":0.015},{"s":"+ 100","x":310,"y":0.05},{"s":"+ 100","x":320,"y":0.065},{"s":"+ 100","x":330,"y":0.074},{"s":"+ 100","x":340,"y":0.058},{"s":"+ 100","x":350,"y":0.04},{"s":"+ 100","x":370,"y":0.022},{"s":"+ 100","x":400,"y":-0.003},
{"s":"+ 500","x":220,"y":-0.16},{"s":"+ 500","x":224,"y":-0.132},{"s":"+ 500","x":228,"y":-0.12},{"s":"+ 500","x":230,"y":-0.106},{"s":"+ 500","x":232,"y":0.06},{"s":"+ 500","x":234,"y":0.32},{"s":"+ 500","x":236,"y":0.56},{"s":"+ 500","x":238,"y":0.78},{"s":"+ 500","x":240,"y":0.87},{"s":"+ 500","x":242,"y":0.915},{"s":"+ 500","x":244,"y":0.94},{"s":"+ 500","x":246,"y":0.935},{"s":"+ 500","x":248,"y":0.9},{"s":"+ 500","x":250,"y":0.86},{"s":"+ 500","x":252,"y":0.845},{"s":"+ 500","x":254,"y":0.855},{"s":"+ 500","x":256,"y":0.865},{"s":"+ 500","x":258,"y":0.865},{"s":"+ 500","x":260,"y":0.845},{"s":"+ 500","x":262,"y":0.77},{"s":"+ 500","x":264,"y":0.55},{"s":"+ 500","x":266,"y":0.28},{"s":"+ 500","x":268,"y":0.1},{"s":"+ 500","x":272,"y":-0.012},{"s":"+ 500","x":280,"y":-0.05},{"s":"+ 500","x":290,"y":-0.032},{"s":"+ 500","x":300,"y":0.01},{"s":"+ 500","x":310,"y":0.046},{"s":"+ 500","x":320,"y":0.062},{"s":"+ 500","x":330,"y":0.074},{"s":"+ 500","x":340,"y":0.06},{"s":"+ 500","x":350,"y":0.042},{"s":"+ 500","x":370,"y":0.025},{"s":"+ 500","x":400,"y":0}
],
"a2":[
{"s":"Dye","x":220,"y":-0.05},{"s":"Dye","x":224,"y":-0.03},{"s":"Dye","x":227,"y":-0.015},{"s":"Dye","x":228,"y":-0.03},{"s":"Dye","x":229,"y":-0.01},{"s":"Dye","x":230,"y":0.06},{"s":"Dye","x":232,"y":0.38},{"s":"Dye","x":234,"y":0.7},{"s":"Dye","x":236,"y":1.0},{"s":"Dye","x":238,"y":1.26},{"s":"Dye","x":240,"y":1.44},{"s":"Dye","x":242,"y":1.53},{"s":"Dye","x":244,"y":1.545},{"s":"Dye","x":246,"y":1.38},{"s":"Dye","x":248,"y":1.18},{"s":"Dye","x":250,"y":1.02},{"s":"Dye","x":252,"y":0.87},{"s":"Dye","x":254,"y":0.76},{"s":"Dye","x":256,"y":0.7},{"s":"Dye","x":258,"y":0.64},{"s":"Dye","x":260,"y":0.6},{"s":"Dye","x":262,"y":0.56},{"s":"Dye","x":264,"y":0.53},{"s":"Dye","x":266,"y":0.49},{"s":"Dye","x":268,"y":0.445},{"s":"Dye","x":272,"y":0.36},{"s":"Dye","x":276,"y":0.29},{"s":"Dye","x":280,"y":0.225},{"s":"Dye","x":285,"y":0.185},{"s":"Dye","x":290,"y":0.168},{"s":"Dye","x":300,"y":0.163},{"s":"Dye","x":310,"y":0.168},{"s":"Dye","x":320,"y":0.168},{"s":"Dye","x":330,"y":0.16},{"s":"Dye","x":340,"y":0.128},{"s":"Dye","x":350,"y":0.102},{"s":"Dye","x":370,"y":0.075},{"s":"Dye","x":400,"y":0.055},
{"s":"+ 1","x":220,"y":-0.05},{"s":"+ 1","x":224,"y":-0.03},{"s":"+ 1","x":227,"y":-0.015},{"s":"+ 1","x":228,"y":-0.035},{"s":"+ 1","x":229,"y":-0.012},{"s":"+ 1","x":230,"y":0.06},{"s":"+ 1","x":232,"y":0.38},{"s":"+ 1","x":234,"y":0.7},{"s":"+ 1","x":236,"y":1.0},{"s":"+ 1","x":238,"y":1.255},{"s":"+ 1","x":240,"y":1.43},{"s":"+ 1","x":242,"y":1.505},{"s":"+ 1","x":244,"y":1.512},{"s":"+ 1","x":246,"y":1.36},{"s":"+ 1","x":248,"y":1.17},{"s":"+ 1","x":250,"y":1.01},{"s":"+ 1","x":252,"y":0.87},{"s":"+ 1","x":254,"y":0.76},{"s":"+ 1","x":256,"y":0.7},{"s":"+ 1","x":258,"y":0.645},{"s":"+ 1","x":260,"y":0.605},{"s":"+ 1","x":262,"y":0.565},{"s":"+ 1","x":264,"y":0.535},{"s":"+ 1","x":266,"y":0.495},{"s":"+ 1","x":268,"y":0.445},{"s":"+ 1","x":272,"y":0.36},{"s":"+ 1","x":276,"y":0.29},{"s":"+ 1","x":280,"y":0.225},{"s":"+ 1","x":285,"y":0.185},{"s":"+ 1","x":290,"y":0.168},{"s":"+ 1","x":300,"y":0.163},{"s":"+ 1","x":310,"y":0.168},{"s":"+ 1","x":320,"y":0.168},{"s":"+ 1","x":330,"y":0.16},{"s":"+ 1","x":340,"y":0.127},{"s":"+ 1","x":350,"y":0.101},{"s":"+ 1","x":370,"y":0.075},{"s":"+ 1","x":400,"y":0.055},
{"s":"+ 2","x":220,"y":-0.05},{"s":"+ 2","x":224,"y":-0.03},{"s":"+ 2","x":227,"y":-0.02},{"s":"+ 2","x":228,"y":-0.085},{"s":"+ 2","x":229,"y":-0.03},{"s":"+ 2","x":230,"y":0.05},{"s":"+ 2","x":232,"y":0.37},{"s":"+ 2","x":234,"y":0.69},{"s":"+ 2","x":236,"y":0.99},{"s":"+ 2","x":238,"y":1.24},{"s":"+ 2","x":240,"y":1.41},{"s":"+ 2","x":242,"y":1.475},{"s":"+ 2","x":244,"y":1.478},{"s":"+ 2","x":246,"y":1.34},{"s":"+ 2","x":248,"y":1.16},{"s":"+ 2","x":250,"y":1.0},{"s":"+ 2","x":252,"y":0.865},{"s":"+ 2","x":254,"y":0.76},{"s":"+ 2","x":256,"y":0.7},{"s":"+ 2","x":258,"y":0.648},{"s":"+ 2","x":260,"y":0.608},{"s":"+ 2","x":262,"y":0.57},{"s":"+ 2","x":264,"y":0.538},{"s":"+ 2","x":266,"y":0.498},{"s":"+ 2","x":268,"y":0.445},{"s":"+ 2","x":272,"y":0.358},{"s":"+ 2","x":276,"y":0.288},{"s":"+ 2","x":280,"y":0.224},{"s":"+ 2","x":285,"y":0.184},{"s":"+ 2","x":290,"y":0.167},{"s":"+ 2","x":300,"y":0.162},{"s":"+ 2","x":310,"y":0.167},{"s":"+ 2","x":320,"y":0.167},{"s":"+ 2","x":330,"y":0.16},{"s":"+ 2","x":340,"y":0.127},{"s":"+ 2","x":350,"y":0.101},{"s":"+ 2","x":370,"y":0.075},{"s":"+ 2","x":400,"y":0.055},
{"s":"+ 4","x":220,"y":-0.05},{"s":"+ 4","x":224,"y":-0.03},{"s":"+ 4","x":227,"y":-0.018},{"s":"+ 4","x":228,"y":-0.06},{"s":"+ 4","x":229,"y":-0.02},{"s":"+ 4","x":230,"y":0.055},{"s":"+ 4","x":232,"y":0.37},{"s":"+ 4","x":234,"y":0.69},{"s":"+ 4","x":236,"y":0.99},{"s":"+ 4","x":238,"y":1.235},{"s":"+ 4","x":240,"y":1.4},{"s":"+ 4","x":242,"y":1.46},{"s":"+ 4","x":244,"y":1.462},{"s":"+ 4","x":246,"y":1.33},{"s":"+ 4","x":248,"y":1.15},{"s":"+ 4","x":250,"y":0.99},{"s":"+ 4","x":252,"y":0.86},{"s":"+ 4","x":254,"y":0.76},{"s":"+ 4","x":256,"y":0.7},{"s":"+ 4","x":258,"y":0.65},{"s":"+ 4","x":260,"y":0.61},{"s":"+ 4","x":262,"y":0.575},{"s":"+ 4","x":264,"y":0.54},{"s":"+ 4","x":266,"y":0.5},{"s":"+ 4","x":268,"y":0.445},{"s":"+ 4","x":272,"y":0.355},{"s":"+ 4","x":276,"y":0.285},{"s":"+ 4","x":280,"y":0.222},{"s":"+ 4","x":285,"y":0.182},{"s":"+ 4","x":290,"y":0.166},{"s":"+ 4","x":300,"y":0.161},{"s":"+ 4","x":310,"y":0.166},{"s":"+ 4","x":320,"y":0.167},{"s":"+ 4","x":330,"y":0.161},{"s":"+ 4","x":340,"y":0.128},{"s":"+ 4","x":350,"y":0.104},{"s":"+ 4","x":370,"y":0.078},{"s":"+ 4","x":400,"y":0.056},
{"s":"+ 8","x":220,"y":-0.06},{"s":"+ 8","x":224,"y":-0.038},{"s":"+ 8","x":227,"y":-0.012},{"s":"+ 8","x":228,"y":-0.01},{"s":"+ 8","x":229,"y":0},{"s":"+ 8","x":230,"y":0.065},{"s":"+ 8","x":232,"y":0.38},{"s":"+ 8","x":234,"y":0.7},{"s":"+ 8","x":236,"y":0.99},{"s":"+ 8","x":238,"y":1.23},{"s":"+ 8","x":240,"y":1.385},{"s":"+ 8","x":242,"y":1.435},{"s":"+ 8","x":244,"y":1.438},{"s":"+ 8","x":246,"y":1.32},{"s":"+ 8","x":248,"y":1.13},{"s":"+ 8","x":250,"y":0.97},{"s":"+ 8","x":252,"y":0.85},{"s":"+ 8","x":254,"y":0.76},{"s":"+ 8","x":256,"y":0.7},{"s":"+ 8","x":258,"y":0.65},{"s":"+ 8","x":260,"y":0.615},{"s":"+ 8","x":262,"y":0.58},{"s":"+ 8","x":264,"y":0.545},{"s":"+ 8","x":266,"y":0.5},{"s":"+ 8","x":268,"y":0.445},{"s":"+ 8","x":272,"y":0.35},{"s":"+ 8","x":276,"y":0.275},{"s":"+ 8","x":280,"y":0.215},{"s":"+ 8","x":285,"y":0.178},{"s":"+ 8","x":290,"y":0.162},{"s":"+ 8","x":300,"y":0.158},{"s":"+ 8","x":310,"y":0.164},{"s":"+ 8","x":320,"y":0.166},{"s":"+ 8","x":330,"y":0.162},{"s":"+ 8","x":340,"y":0.13},{"s":"+ 8","x":350,"y":0.108},{"s":"+ 8","x":370,"y":0.083},{"s":"+ 8","x":400,"y":0.057},
{"s":"+ 16","x":220,"y":-0.06},{"s":"+ 16","x":224,"y":-0.038},{"s":"+ 16","x":227,"y":-0.012},{"s":"+ 16","x":228,"y":-0.008},{"s":"+ 16","x":229,"y":0.002},{"s":"+ 16","x":230,"y":0.065},{"s":"+ 16","x":232,"y":0.38},{"s":"+ 16","x":234,"y":0.7},{"s":"+ 16","x":236,"y":0.99},{"s":"+ 16","x":238,"y":1.22},{"s":"+ 16","x":240,"y":1.35},{"s":"+ 16","x":242,"y":1.378},{"s":"+ 16","x":244,"y":1.372},{"s":"+ 16","x":246,"y":1.27},{"s":"+ 16","x":248,"y":1.1},{"s":"+ 16","x":250,"y":0.96},{"s":"+ 16","x":252,"y":0.86},{"s":"+ 16","x":254,"y":0.79},{"s":"+ 16","x":256,"y":0.74},{"s":"+ 16","x":258,"y":0.69},{"s":"+ 16","x":260,"y":0.65},{"s":"+ 16","x":262,"y":0.61},{"s":"+ 16","x":264,"y":0.565},{"s":"+ 16","x":266,"y":0.5},{"s":"+ 16","x":268,"y":0.44},{"s":"+ 16","x":272,"y":0.33},{"s":"+ 16","x":276,"y":0.255},{"s":"+ 16","x":280,"y":0.2},{"s":"+ 16","x":285,"y":0.168},{"s":"+ 16","x":290,"y":0.155},{"s":"+ 16","x":300,"y":0.15},{"s":"+ 16","x":310,"y":0.158},{"s":"+ 16","x":320,"y":0.163},{"s":"+ 16","x":330,"y":0.163},{"s":"+ 16","x":340,"y":0.136},{"s":"+ 16","x":350,"y":0.115},{"s":"+ 16","x":370,"y":0.088},{"s":"+ 16","x":400,"y":0.06},
{"s":"+ 50","x":220,"y":-0.065},{"s":"+ 50","x":224,"y":-0.042},{"s":"+ 50","x":227,"y":-0.01},{"s":"+ 50","x":228,"y":0},{"s":"+ 50","x":229,"y":0.015},{"s":"+ 50","x":230,"y":0.075},{"s":"+ 50","x":232,"y":0.38},{"s":"+ 50","x":234,"y":0.69},{"s":"+ 50","x":236,"y":0.98},{"s":"+ 50","x":238,"y":1.18},{"s":"+ 50","x":240,"y":1.245},{"s":"+ 50","x":242,"y":1.262},{"s":"+ 50","x":244,"y":1.252},{"s":"+ 50","x":246,"y":1.17},{"s":"+ 50","x":248,"y":1.04},{"s":"+ 50","x":250,"y":0.95},{"s":"+ 50","x":252,"y":0.89},{"s":"+ 50","x":254,"y":0.845},{"s":"+ 50","x":256,"y":0.8},{"s":"+ 50","x":258,"y":0.76},{"s":"+ 50","x":260,"y":0.72},{"s":"+ 50","x":262,"y":0.665},{"s":"+ 50","x":264,"y":0.6},{"s":"+ 50","x":266,"y":0.52},{"s":"+ 50","x":268,"y":0.44},{"s":"+ 50","x":272,"y":0.31},{"s":"+ 50","x":276,"y":0.23},{"s":"+ 50","x":280,"y":0.18},{"s":"+ 50","x":285,"y":0.155},{"s":"+ 50","x":290,"y":0.145},{"s":"+ 50","x":300,"y":0.14},{"s":"+ 50","x":310,"y":0.15},{"s":"+ 50","x":320,"y":0.158},{"s":"+ 50","x":330,"y":0.165},{"s":"+ 50","x":340,"y":0.143},{"s":"+ 50","x":350,"y":0.122},{"s":"+ 50","x":370,"y":0.095},{"s":"+ 50","x":400,"y":0.065},
{"s":"+ 100","x":220,"y":-0.068},{"s":"+ 100","x":224,"y":-0.044},{"s":"+ 100","x":227,"y":-0.01},{"s":"+ 100","x":228,"y":0},{"s":"+ 100","x":229,"y":0.018},{"s":"+ 100","x":230,"y":0.078},{"s":"+ 100","x":232,"y":0.37},{"s":"+ 100","x":234,"y":0.67},{"s":"+ 100","x":236,"y":0.95},{"s":"+ 100","x":238,"y":1.11},{"s":"+ 100","x":240,"y":1.17},{"s":"+ 100","x":242,"y":1.186},{"s":"+ 100","x":244,"y":1.18},{"s":"+ 100","x":246,"y":1.11},{"s":"+ 100","x":248,"y":1.01},{"s":"+ 100","x":250,"y":0.97},{"s":"+ 100","x":252,"y":0.95},{"s":"+ 100","x":254,"y":0.94},{"s":"+ 100","x":256,"y":0.93},{"s":"+ 100","x":258,"y":0.9},{"s":"+ 100","x":260,"y":0.86},{"s":"+ 100","x":262,"y":0.78},{"s":"+ 100","x":264,"y":0.67},{"s":"+ 100","x":266,"y":0.55},{"s":"+ 100","x":268,"y":0.44},{"s":"+ 100","x":272,"y":0.29},{"s":"+ 100","x":276,"y":0.215},{"s":"+ 100","x":280,"y":0.172},{"s":"+ 100","x":285,"y":0.15},{"s":"+ 100","x":290,"y":0.14},{"s":"+ 100","x":300,"y":0.136},{"s":"+ 100","x":310,"y":0.145},{"s":"+ 100","x":320,"y":0.155},{"s":"+ 100","x":330,"y":0.165},{"s":"+ 100","x":340,"y":0.148},{"s":"+ 100","x":350,"y":0.128},{"s":"+ 100","x":370,"y":0.1},{"s":"+ 100","x":400,"y":0.07},
{"s":"+ 500","x":220,"y":-0.07},{"s":"+ 500","x":224,"y":-0.045},{"s":"+ 500","x":227,"y":-0.01},{"s":"+ 500","x":228,"y":0},{"s":"+ 500","x":229,"y":0.02},{"s":"+ 500","x":230,"y":0.08},{"s":"+ 500","x":232,"y":0.36},{"s":"+ 500","x":234,"y":0.63},{"s":"+ 500","x":236,"y":0.85},{"s":"+ 500","x":238,"y":0.97},{"s":"+ 500","x":240,"y":1.03},{"s":"+ 500","x":242,"y":1.055},{"s":"+ 500","x":244,"y":1.06},{"s":"+ 500","x":246,"y":1.06},{"s":"+ 500","x":248,"y":1.05},{"s":"+ 500","x":250,"y":1.045},{"s":"+ 500","x":252,"y":1.06},{"s":"+ 500","x":254,"y":1.082},{"s":"+ 500","x":256,"y":1.095},{"s":"+ 500","x":258,"y":1.085},{"s":"+ 500","x":260,"y":1.03},{"s":"+ 500","x":262,"y":0.9},{"s":"+ 500","x":264,"y":0.7},{"s":"+ 500","x":266,"y":0.5},{"s":"+ 500","x":268,"y":0.36},{"s":"+ 500","x":272,"y":0.26},{"s":"+ 500","x":276,"y":0.2},{"s":"+ 500","x":280,"y":0.16},{"s":"+ 500","x":285,"y":0.14},{"s":"+ 500","x":290,"y":0.133},{"s":"+ 500","x":300,"y":0.13},{"s":"+ 500","x":310,"y":0.14},{"s":"+ 500","x":320,"y":0.152},{"s":"+ 500","x":330,"y":0.165},{"s":"+ 500","x":340,"y":0.15},{"s":"+ 500","x":350,"y":0.13},{"s":"+ 500","x":370,"y":0.104},{"s":"+ 500","x":400,"y":0.072}
],
"a3":[
{"s":"Dye","x":220,"y":0.04},{"s":"Dye","x":224,"y":0.05},{"s":"Dye","x":228,"y":0.045},{"s":"Dye","x":229,"y":0.06},{"s":"Dye","x":230,"y":0.12},{"s":"Dye","x":232,"y":0.4},{"s":"Dye","x":234,"y":0.7},{"s":"Dye","x":236,"y":1.0},{"s":"Dye","x":238,"y":1.3},{"s":"Dye","x":240,"y":1.52},{"s":"Dye","x":242,"y":1.645},{"s":"Dye","x":244,"y":1.655},{"s":"Dye","x":246,"y":1.52},{"s":"Dye","x":248,"y":1.33},{"s":"Dye","x":250,"y":1.13},{"s":"Dye","x":252,"y":0.93},{"s":"Dye","x":254,"y":0.78},{"s":"Dye","x":256,"y":0.69},{"s":"Dye","x":258,"y":0.62},{"s":"Dye","x":260,"y":0.565},{"s":"Dye","x":262,"y":0.515},{"s":"Dye","x":264,"y":0.47},{"s":"Dye","x":266,"y":0.425},{"s":"Dye","x":268,"y":0.395},{"s":"Dye","x":270,"y":0.385},{"s":"Dye","x":272,"y":0.365},{"s":"Dye","x":276,"y":0.295},{"s":"Dye","x":280,"y":0.24},{"s":"Dye","x":285,"y":0.2},{"s":"Dye","x":290,"y":0.175},{"s":"Dye","x":300,"y":0.162},{"s":"Dye","x":310,"y":0.16},{"s":"Dye","x":320,"y":0.155},{"s":"Dye","x":330,"y":0.143},{"s":"Dye","x":340,"y":0.122},{"s":"Dye","x":350,"y":0.103},{"s":"Dye","x":370,"y":0.066},{"s":"Dye","x":400,"y":0.028},
{"s":"+ 1","x":220,"y":0.04},{"s":"+ 1","x":224,"y":0.05},{"s":"+ 1","x":228,"y":0.04},{"s":"+ 1","x":229,"y":0.055},{"s":"+ 1","x":230,"y":0.12},{"s":"+ 1","x":232,"y":0.4},{"s":"+ 1","x":234,"y":0.7},{"s":"+ 1","x":236,"y":1.0},{"s":"+ 1","x":238,"y":1.3},{"s":"+ 1","x":240,"y":1.515},{"s":"+ 1","x":242,"y":1.625},{"s":"+ 1","x":244,"y":1.638},{"s":"+ 1","x":246,"y":1.51},{"s":"+ 1","x":248,"y":1.33},{"s":"+ 1","x":250,"y":1.13},{"s":"+ 1","x":252,"y":0.935},{"s":"+ 1","x":254,"y":0.785},{"s":"+ 1","x":256,"y":0.692},{"s":"+ 1","x":258,"y":0.622},{"s":"+ 1","x":260,"y":0.567},{"s":"+ 1","x":262,"y":0.517},{"s":"+ 1","x":264,"y":0.472},{"s":"+ 1","x":266,"y":0.427},{"s":"+ 1","x":268,"y":0.396},{"s":"+ 1","x":270,"y":0.385},{"s":"+ 1","x":272,"y":0.364},{"s":"+ 1","x":276,"y":0.294},{"s":"+ 1","x":280,"y":0.239},{"s":"+ 1","x":285,"y":0.2},{"s":"+ 1","x":290,"y":0.175},{"s":"+ 1","x":300,"y":0.162},{"s":"+ 1","x":310,"y":0.16},{"s":"+ 1","x":320,"y":0.155},{"s":"+ 1","x":330,"y":0.143},{"s":"+ 1","x":340,"y":0.122},{"s":"+ 1","x":350,"y":0.103},{"s":"+ 1","x":370,"y":0.066},{"s":"+ 1","x":400,"y":0.028},
{"s":"+ 2","x":220,"y":0.04},{"s":"+ 2","x":224,"y":0.05},{"s":"+ 2","x":228,"y":-0.024},{"s":"+ 2","x":229,"y":0.02},{"s":"+ 2","x":230,"y":0.1},{"s":"+ 2","x":232,"y":0.39},{"s":"+ 2","x":234,"y":0.69},{"s":"+ 2","x":236,"y":0.99},{"s":"+ 2","x":238,"y":1.29},{"s":"+ 2","x":240,"y":1.505},{"s":"+ 2","x":242,"y":1.595},{"s":"+ 2","x":244,"y":1.603},{"s":"+ 2","x":246,"y":1.49},{"s":"+ 2","x":248,"y":1.32},{"s":"+ 2","x":250,"y":1.13},{"s":"+ 2","x":252,"y":0.94},{"s":"+ 2","x":254,"y":0.79},{"s":"+ 2","x":256,"y":0.695},{"s":"+ 2","x":258,"y":0.625},{"s":"+ 2","x":260,"y":0.57},{"s":"+ 2","x":262,"y":0.52},{"s":"+ 2","x":264,"y":0.474},{"s":"+ 2","x":266,"y":0.428},{"s":"+ 2","x":268,"y":0.396},{"s":"+ 2","x":270,"y":0.384},{"s":"+ 2","x":272,"y":0.362},{"s":"+ 2","x":276,"y":0.292},{"s":"+ 2","x":280,"y":0.238},{"s":"+ 2","x":285,"y":0.199},{"s":"+ 2","x":290,"y":0.174},{"s":"+ 2","x":300,"y":0.161},{"s":"+ 2","x":310,"y":0.159},{"s":"+ 2","x":320,"y":0.154},{"s":"+ 2","x":330,"y":0.143},{"s":"+ 2","x":340,"y":0.122},{"s":"+ 2","x":350,"y":0.103},{"s":"+ 2","x":370,"y":0.066},{"s":"+ 2","x":400,"y":0.028},
{"s":"+ 4","x":220,"y":0.038},{"s":"+ 4","x":224,"y":0.05},{"s":"+ 4","x":228,"y":0},{"s":"+ 4","x":229,"y":0.04},{"s":"+ 4","x":230,"y":0.11},{"s":"+ 4","x":232,"y":0.39},{"s":"+ 4","x":234,"y":0.69},{"s":"+ 4","x":236,"y":0.99},{"s":"+ 4","x":238,"y":1.29},{"s":"+ 4","x":240,"y":1.5},{"s":"+ 4","x":242,"y":1.57},{"s":"+ 4","x":244,"y":1.578},{"s":"+ 4","x":246,"y":1.47},{"s":"+ 4","x":248,"y":1.31},{"s":"+ 4","x":250,"y":1.12},{"s":"+ 4","x":252,"y":0.94},{"s":"+ 4","x":254,"y":0.79},{"s":"+ 4","x":256,"y":0.7},{"s":"+ 4","x":258,"y":0.628},{"s":"+ 4","x":260,"y":0.574},{"s":"+ 4","x":262,"y":0.524},{"s":"+ 4","x":264,"y":0.477},{"s":"+ 4","x":266,"y":0.43},{"s":"+ 4","x":268,"y":0.396},{"s":"+ 4","x":270,"y":0.382},{"s":"+ 4","x":272,"y":0.358},{"s":"+ 4","x":276,"y":0.289},{"s":"+ 4","x":280,"y":0.236},{"s":"+ 4","x":285,"y":0.198},{"s":"+ 4","x":290,"y":0.174},{"s":"+ 4","x":300,"y":0.16},{"s":"+ 4","x":310,"y":0.158},{"s":"+ 4","x":320,"y":0.154},{"s":"+ 4","x":330,"y":0.143},{"s":"+ 4","x":340,"y":0.122},{"s":"+ 4","x":350,"y":0.104},{"s":"+ 4","x":370,"y":0.067},{"s":"+ 4","x":400,"y":0.029},
{"s":"+ 8","x":220,"y":0.03},{"s":"+ 8","x":224,"y":0.05},{"s":"+ 8","x":228,"y":0.045},{"s":"+ 8","x":229,"y":0.06},{"s":"+ 8","x":230,"y":0.12},{"s":"+ 8","x":232,"y":0.4},{"s":"+ 8","x":234,"y":0.7},{"s":"+ 8","x":236,"y":1.0},{"s":"+ 8","x":238,"y":1.29},{"s":"+ 8","x":240,"y":1.49},{"s":"+ 8","x":242,"y":1.54},{"s":"+ 8","x":244,"y":1.544},{"s":"+ 8","x":246,"y":1.45},{"s":"+ 8","x":248,"y":1.3},{"s":"+ 8","x":250,"y":1.12},{"s":"+ 8","x":252,"y":0.935},{"s":"+ 8","x":254,"y":0.795},{"s":"+ 8","x":256,"y":0.7},{"s":"+ 8","x":258,"y":0.63},{"s":"+ 8","x":260,"y":0.58},{"s":"+ 8","x":262,"y":0.53},{"s":"+ 8","x":264,"y":0.48},{"s":"+ 8","x":266,"y":0.43},{"s":"+ 8","x":268,"y":0.395},{"s":"+ 8","x":270,"y":0.375},{"s":"+ 8","x":272,"y":0.35},{"s":"+ 8","x":276,"y":0.28},{"s":"+ 8","x":280,"y":0.232},{"s":"+ 8","x":285,"y":0.195},{"s":"+ 8","x":290,"y":0.172},{"s":"+ 8","x":300,"y":0.158},{"s":"+ 8","x":310,"y":0.157},{"s":"+ 8","x":320,"y":0.153},{"s":"+ 8","x":330,"y":0.143},{"s":"+ 8","x":340,"y":0.123},{"s":"+ 8","x":350,"y":0.105},{"s":"+ 8","x":370,"y":0.068},{"s":"+ 8","x":400,"y":0.03},
{"s":"+ 16","x":220,"y":0.03},{"s":"+ 16","x":224,"y":0.05},{"s":"+ 16","x":228,"y":0.045},{"s":"+ 16","x":229,"y":0.06},{"s":"+ 16","x":230,"y":0.12},{"s":"+ 16","x":232,"y":0.4},{"s":"+ 16","x":234,"y":0.7},{"s":"+ 16","x":236,"y":1.0},{"s":"+ 16","x":238,"y":1.29},{"s":"+ 16","x":240,"y":1.47},{"s":"+ 16","x":242,"y":1.51},{"s":"+ 16","x":244,"y":1.511},{"s":"+ 16","x":246,"y":1.43},{"s":"+ 16","x":248,"y":1.28},{"s":"+ 16","x":250,"y":1.11},{"s":"+ 16","x":252,"y":0.94},{"s":"+ 16","x":254,"y":0.8},{"s":"+ 16","x":256,"y":0.71},{"s":"+ 16","x":258,"y":0.645},{"s":"+ 16","x":260,"y":0.595},{"s":"+ 16","x":262,"y":0.545},{"s":"+ 16","x":264,"y":0.495},{"s":"+ 16","x":266,"y":0.44},{"s":"+ 16","x":268,"y":0.39},{"s":"+ 16","x":270,"y":0.36},{"s":"+ 16","x":272,"y":0.33},{"s":"+ 16","x":276,"y":0.27},{"s":"+ 16","x":280,"y":0.225},{"s":"+ 16","x":285,"y":0.19},{"s":"+ 16","x":290,"y":0.168},{"s":"+ 16","x":300,"y":0.154},{"s":"+ 16","x":310,"y":0.154},{"s":"+ 16","x":320,"y":0.151},{"s":"+ 16","x":330,"y":0.143},{"s":"+ 16","x":340,"y":0.124},{"s":"+ 16","x":350,"y":0.107},{"s":"+ 16","x":370,"y":0.07},{"s":"+ 16","x":400,"y":0.031},
{"s":"+ 50","x":220,"y":0.025},{"s":"+ 50","x":224,"y":0.048},{"s":"+ 50","x":228,"y":0.048},{"s":"+ 50","x":229,"y":0.06},{"s":"+ 50","x":230,"y":0.12},{"s":"+ 50","x":232,"y":0.4},{"s":"+ 50","x":234,"y":0.7},{"s":"+ 50","x":236,"y":1.0},{"s":"+ 50","x":238,"y":1.28},{"s":"+ 50","x":240,"y":1.41},{"s":"+ 50","x":242,"y":1.45},{"s":"+ 50","x":244,"y":1.452},{"s":"+ 50","x":246,"y":1.39},{"s":"+ 50","x":248,"y":1.26},{"s":"+ 50","x":250,"y":1.1},{"s":"+ 50","x":252,"y":0.95},{"s":"+ 50","x":254,"y":0.83},{"s":"+ 50","x":256,"y":0.74},{"s":"+ 50","x":258,"y":0.68},{"s":"+ 50","x":260,"y":0.63},{"s":"+ 50","x":262,"y":0.58},{"s":"+ 50","x":264,"y":0.52},{"s":"+ 50","x":266,"y":0.45},{"s":"+ 50","x":268,"y":0.38},{"s":"+ 50","x":270,"y":0.34},{"s":"+ 50","x":272,"y":0.31},{"s":"+ 50","x":276,"y":0.255},{"s":"+ 50","x":280,"y":0.215},{"s":"+ 50","x":285,"y":0.185},{"s":"+ 50","x":290,"y":0.165},{"s":"+ 50","x":300,"y":0.15},{"s":"+ 50","x":310,"y":0.15},{"s":"+ 50","x":320,"y":0.149},{"s":"+ 50","x":330,"y":0.143},{"s":"+ 50","x":340,"y":0.125},{"s":"+ 50","x":350,"y":0.109},{"s":"+ 50","x":370,"y":0.072},{"s":"+ 50","x":400,"y":0.033},
{"s":"+ 100","x":220,"y":0.02},{"s":"+ 100","x":224,"y":0.045},{"s":"+ 100","x":228,"y":0.05},{"s":"+ 100","x":229,"y":0.06},{"s":"+ 100","x":230,"y":0.12},{"s":"+ 100","x":232,"y":0.4},{"s":"+ 100","x":234,"y":0.7},{"s":"+ 100","x":236,"y":0.99},{"s":"+ 100","x":238,"y":1.25},{"s":"+ 100","x":240,"y":1.36},{"s":"+ 100","x":242,"y":1.385},{"s":"+ 100","x":244,"y":1.385},{"s":"+ 100","x":246,"y":1.34},{"s":"+ 100","x":248,"y":1.23},{"s":"+ 100","x":250,"y":1.09},{"s":"+ 100","x":252,"y":0.97},{"s":"+ 100","x":254,"y":0.87},{"s":"+ 100","x":256,"y":0.79},{"s":"+ 100","x":258,"y":0.73},{"s":"+ 100","x":260,"y":0.68},{"s":"+ 100","x":262,"y":0.62},{"s":"+ 100","x":264,"y":0.55},{"s":"+ 100","x":266,"y":0.46},{"s":"+ 100","x":268,"y":0.38},{"s":"+ 100","x":270,"y":0.33},{"s":"+ 100","x":272,"y":0.3},{"s":"+ 100","x":276,"y":0.245},{"s":"+ 100","x":280,"y":0.205},{"s":"+ 100","x":285,"y":0.178},{"s":"+ 100","x":290,"y":0.16},{"s":"+ 100","x":300,"y":0.146},{"s":"+ 100","x":310,"y":0.146},{"s":"+ 100","x":320,"y":0.146},{"s":"+ 100","x":330,"y":0.142},{"s":"+ 100","x":340,"y":0.127},{"s":"+ 100","x":350,"y":0.112},{"s":"+ 100","x":370,"y":0.075},{"s":"+ 100","x":400,"y":0.035},
{"s":"+ 500","x":220,"y":0.018},{"s":"+ 500","x":224,"y":0.045},{"s":"+ 500","x":228,"y":0.05},{"s":"+ 500","x":229,"y":0.06},{"s":"+ 500","x":230,"y":0.12},{"s":"+ 500","x":232,"y":0.4},{"s":"+ 500","x":234,"y":0.7},{"s":"+ 500","x":236,"y":0.97},{"s":"+ 500","x":238,"y":1.17},{"s":"+ 500","x":240,"y":1.26},{"s":"+ 500","x":242,"y":1.29},{"s":"+ 500","x":244,"y":1.294},{"s":"+ 500","x":246,"y":1.26},{"s":"+ 500","x":248,"y":1.18},{"s":"+ 500","x":250,"y":1.08},{"s":"+ 500","x":252,"y":1.0},{"s":"+ 500","x":254,"y":0.93},{"s":"+ 500","x":256,"y":0.86},{"s":"+ 500","x":258,"y":0.8},{"s":"+ 500","x":260,"y":0.76},{"s":"+ 500","x":262,"y":0.71},{"s":"+ 500","x":264,"y":0.64},{"s":"+ 500","x":266,"y":0.52},{"s":"+ 500","x":268,"y":0.41},{"s":"+ 500","x":270,"y":0.34},{"s":"+ 500","x":272,"y":0.3},{"s":"+ 500","x":276,"y":0.245},{"s":"+ 500","x":280,"y":0.2},{"s":"+ 500","x":285,"y":0.175},{"s":"+ 500","x":290,"y":0.158},{"s":"+ 500","x":300,"y":0.144},{"s":"+ 500","x":310,"y":0.145},{"s":"+ 500","x":320,"y":0.145},{"s":"+ 500","x":330,"y":0.142},{"s":"+ 500","x":340,"y":0.128},{"s":"+ 500","x":350,"y":0.113},{"s":"+ 500","x":370,"y":0.076},{"s":"+ 500","x":400,"y":0.036}
]
},
"columns":3,
"spacing":{"row":88,"column":98},
"bounds":"flush",
"resolve":{"scale":{"x":"independent","y":"independent","color":"independent"}},
"concat":[
{"width":341,"height":395,"title":{"text":"DCHQ1 MeOH:MOPS","offset":-7},"data":{"name":"f1"},
"layer":[
{"mark":{"type":"line","strokeWidth":2,"interpolate":"monotone"},
"encoding":{
"x":{"field":"x","type":"quantitative","scale":{"domain":[400,650],"nice":false,"zero":false},"axis":{"values":[400,450,500,550,600,650],"title":"λ (nm)"}},
"y":{"field":"y","type":"quantitative","scale":{"domain":[-0.085,2.5],"nice":false,"zero":false},"axis":{"values":[0,0.5,1,1.5,2,2.5],"labelExpr":"datum.value + ''","title":"Fluorescence intensity (A.U.)"}},
"color":{"field":"s","type":"nominal","scale":{"domain":["Buffer","Dye","+ 1","+ 2","+ 5","+ 10","+ 20","+ 40","+ 80","+ 160","+ 320","+ 500"],"range":["#ffffff","#14148c","#9b30d8","#e33ae3","#1c1cff","#2e8ee8","#22e4e4","#2ee02e","#f0e020","#f09428","#ee1c14","#c01410"]},"legend":{"legendX":250,"legendY":11}}}},
{"mark":{"type":"line","opacity":0},
"encoding":{
"x":{"field":"x","type":"quantitative","scale":{"domain":[400,650],"nice":false,"zero":false},"axis":{"orient":"top","values":[400,450,500,550,600,650],"labels":false,"title":null}},
"y":{"field":"y","type":"quantitative","scale":{"domain":[-0.085,2.5],"nice":false,"zero":false},"axis":{"orient":"right","values":[0,0.5,1,1.5,2,2.5],"labels":false,"title":null}},
"detail":{"field":"s"}}},
{"data":{"values":[{"t":"x 10⁵"}]},"mark":{"type":"text","align":"left","baseline":"alphabetic","dy":-5,"color":"#e6e6e6","fontSize":14},
"encoding":{"x":{"datum":400,"type":"quantitative","axis":null},"y":{"datum":2.5,"type":"quantitative","axis":null},"text":{"field":"t"}}}
],
"resolve":{"axis":{"x":"independent","y":"independent"}}},
{"width":341,"height":395,"title":{"text":"DCHQ1 MOPS:KCl","offset":-7},"data":{"name":"f2"},
"layer":[
{"mark":{"type":"line","strokeWidth":2,"interpolate":"monotone"},
"encoding":{
"x":{"field":"x","type":"quantitative","scale":{"domain":[400,650],"nice":false,"zero":false},"axis":{"values":[400,450,500,550,600,650],"title":"λ (nm)"}},
"y":{"field":"y","type":"quantitative","scale":{"domain":[-0.36,9],"nice":false,"zero":false},"axis":{"values":[0,1,2,3,4,5,6,7,8,9],"labelExpr":"datum.value + ''","title":"Fluorescence intensity (A.U.)"}},
"color":{"field":"s","type":"nominal","scale":{"domain":["Buffer","Dye","+ 1","+ 2","+ 5","+ 10","+ 20","+ 40","+ 80","+ 160","+ 320","+ 500"],"range":["#ffffff","#14148c","#9b30d8","#e33ae3","#1c1cff","#2e8ee8","#22e4e4","#2ee02e","#f0e020","#f09428","#ee1c14","#c01410"]},"legend":{"legendX":251,"legendY":11}}}},
{"mark":{"type":"line","opacity":0},
"encoding":{
"x":{"field":"x","type":"quantitative","scale":{"domain":[400,650],"nice":false,"zero":false},"axis":{"orient":"top","values":[400,450,500,550,600,650],"labels":false,"title":null}},
"y":{"field":"y","type":"quantitative","scale":{"domain":[-0.36,9],"nice":false,"zero":false},"axis":{"orient":"right","values":[0,1,2,3,4,5,6,7,8,9],"labels":false,"title":null}},
"detail":{"field":"s"}}},
{"data":{"values":[{"t":"x 10⁴"}]},"mark":{"type":"text","align":"left","baseline":"alphabetic","dy":-5,"color":"#e6e6e6","fontSize":14},
"encoding":{"x":{"datum":400,"type":"quantitative","axis":null},"y":{"datum":9,"type":"quantitative","axis":null},"text":{"field":"t"}}}
],
"resolve":{"axis":{"x":"independent","y":"independent"}}},
{"width":341,"height":395,"title":{"text":"DCHQ1 DPBS","offset":-7},"data":{"name":"f3"},
"layer":[
{"mark":{"type":"line","strokeWidth":2,"interpolate":"monotone"},
"encoding":{
"x":{"field":"x","type":"quantitative","scale":{"domain":[400,650],"nice":false,"zero":false},"axis":{"values":[400,450,500,550,600,650],"title":"λ (nm)"}},
"y":{"field":"y","type":"quantitative","scale":{"domain":[-0.36,8],"nice":false,"zero":false},"axis":{"values":[0,1,2,3,4,5,6,7,8],"labelExpr":"datum.value + ''","title":"Fluorescence intensity (A.U.)"}},
"color":{"field":"s","type":"nominal","scale":{"domain":["Buffer","Dye","+ 1","+ 2","+ 5","+ 10","+ 20","+ 40","+ 80","+ 160","+ 320","+ 500"],"range":["#ffffff","#14148c","#9b30d8","#e33ae3","#1c1cff","#2e8ee8","#22e4e4","#2ee02e","#f0e020","#f09428","#ee1c14","#c01410"]},"legend":{"legendX":250,"legendY":11}}}},
{"mark":{"type":"line","opacity":0},
"encoding":{
"x":{"field":"x","type":"quantitative","scale":{"domain":[400,650],"nice":false,"zero":false},"axis":{"orient":"top","values":[400,450,500,550,600,650],"labels":false,"title":null}},
"y":{"field":"y","type":"quantitative","scale":{"domain":[-0.36,8],"nice":false,"zero":false},"axis":{"orient":"right","values":[0,1,2,3,4,5,6,7,8],"labels":false,"title":null}},
"detail":{"field":"s"}}},
{"data":{"values":[{"t":"x 10⁴"}]},"mark":{"type":"text","align":"left","baseline":"alphabetic","dy":-5,"color":"#e6e6e6","fontSize":14},
"encoding":{"x":{"datum":400,"type":"quantitative","axis":null},"y":{"datum":8,"type":"quantitative","axis":null},"text":{"field":"t"}}}
],
"resolve":{"axis":{"x":"independent","y":"independent"}}},
{"width":341,"height":397,"title":{"text":"DCHQ1 MeOH:MOPS","offset":2},"data":{"name":"a1"},
"layer":[
{"mark":{"type":"line","strokeWidth":2,"interpolate":"monotone"},
"encoding":{
"x":{"field":"x","type":"quantitative","scale":{"domain":[200,400],"nice":false,"zero":false},"axis":{"values":[200,250,300,350,400],"title":"λ (nm)"}},
"y":{"field":"y","type":"quantitative","scale":{"domain":[-0.2,1.8],"nice":false,"zero":false},"axis":{"values":[-0.2,0,0.2,0.4,0.6,0.8,1,1.2,1.4,1.6,1.8],"labelExpr":"datum.value + ''","title":"Absorbance (A.U.)"}},
"color":{"field":"s","type":"nominal","scale":{"domain":["Dye","+ 1","+ 2","+ 4","+ 8","+ 16","+ 500 ","+ 100","+ 500"],"range":["#a032e0","#1c1cff","#2e8ee8","#22e4e4","#2ee02e","#f0e020","#f09428","#ee1c14","#c01410"]},"legend":{"legendX":250,"legendY":44}}}},
{"mark":{"type":"line","opacity":0},
"encoding":{
"x":{"field":"x","type":"quantitative","scale":{"domain":[200,400],"nice":false,"zero":false},"axis":{"orient":"top","values":[200,250,300,350,400],"labels":false,"title":null}},
"y":{"field":"y","type":"quantitative","scale":{"domain":[-0.2,1.8],"nice":false,"zero":false},"axis":{"orient":"right","values":[-0.2,0,0.2,0.4,0.6,0.8,1,1.2,1.4,1.6,1.8],"labels":false,"title":null}},
"detail":{"field":"s"}}}
],
"resolve":{"axis":{"x":"independent","y":"independent"}}},
{"width":341,"height":397,"title":{"text":"DCHQ1 MOPS:KCl","offset":2},"data":{"name":"a2"},
"layer":[
{"mark":{"type":"line","strokeWidth":2,"interpolate":"monotone"},
"encoding":{
"x":{"field":"x","type":"quantitative","scale":{"domain":[200,400],"nice":false,"zero":false},"axis":{"values":[200,250,300,350,400],"title":"λ (nm)"}},
"y":{"field":"y","type":"quantitative","scale":{"domain":[-0.2,1.8],"nice":false,"zero":false},"axis":{"values":[-0.2,0,0.2,0.4,0.6,0.8,1,1.2,1.4,1.6,1.8],"labelExpr":"datum.value + ''","title":"Absorbance (A.U.)"}},
"color":{"field":"s","type":"nominal","scale":{"domain":["Dye","+ 1","+ 2","+ 4","+ 8","+ 16","+ 50","+ 100","+ 500"],"range":["#a032e0","#1c1cff","#2e8ee8","#22e4e4","#2ee02e","#f0e020","#f09428","#ee1c14","#c01410"]},"legend":{"legendX":250,"legendY":44}}}},
{"mark":{"type":"line","opacity":0},
"encoding":{
"x":{"field":"x","type":"quantitative","scale":{"domain":[200,400],"nice":false,"zero":false},"axis":{"orient":"top","values":[200,250,300,350,400],"labels":false,"title":null}},
"y":{"field":"y","type":"quantitative","scale":{"domain":[-0.2,1.8],"nice":false,"zero":false},"axis":{"orient":"right","values":[-0.2,0,0.2,0.4,0.6,0.8,1,1.2,1.4,1.6,1.8],"labels":false,"title":null}},
"detail":{"field":"s"}}}
],
"resolve":{"axis":{"x":"independent","y":"independent"}}},
{"width":341,"height":397,"title":{"text":"DCHQ1 DPBS","offset":2},"data":{"name":"a3"},
"layer":[
{"mark":{"type":"line","strokeWidth":2,"interpolate":"monotone"},
"encoding":{
"x":{"field":"x","type":"quantitative","scale":{"domain":[200,400],"nice":false,"zero":false},"axis":{"values":[200,250,300,350,400],"title":"λ (nm)"}},
"y":{"field":"y","type":"quantitative","scale":{"domain":[-0.2,1.8],"nice":false,"zero":false},"axis":{"values":[0,0.2,0.4,0.6,0.8,1,1.2,1.4,1.6,1.8],"labelExpr":"datum.value + ''","title":"Absorbance (A.U.)"}},
"color":{"field":"s","type":"nominal","scale":{"domain":["Dye","+ 1","+ 2","+ 4","+ 8","+ 16","+ 50","+ 100","+ 500"],"range":["#a032e0","#1c1cff","#2e8ee8","#22e4e4","#2ee02e","#f0e020","#f09428","#ee1c14","#c01410"]},"legend":{"legendX":250,"legendY":44}}}},
{"mark":{"type":"line","opacity":0},
"encoding":{
"x":{"field":"x","type":"quantitative","scale":{"domain":[200,400],"nice":false,"zero":false},"axis":{"orient":"top","values":[200,250,300,350,400],"labels":false,"title":null}},
"y":{"field":"y","type":"quantitative","scale":{"domain":[-0.2,1.8],"nice":false,"zero":false},"axis":{"orient":"right","values":[0,0.2,0.4,0.6,0.8,1,1.2,1.4,1.6,1.8],"labels":false,"title":null}},
"detail":{"field":"s"}}}
],
"resolve":{"axis":{"x":"independent","y":"independent"}}}
]
}
